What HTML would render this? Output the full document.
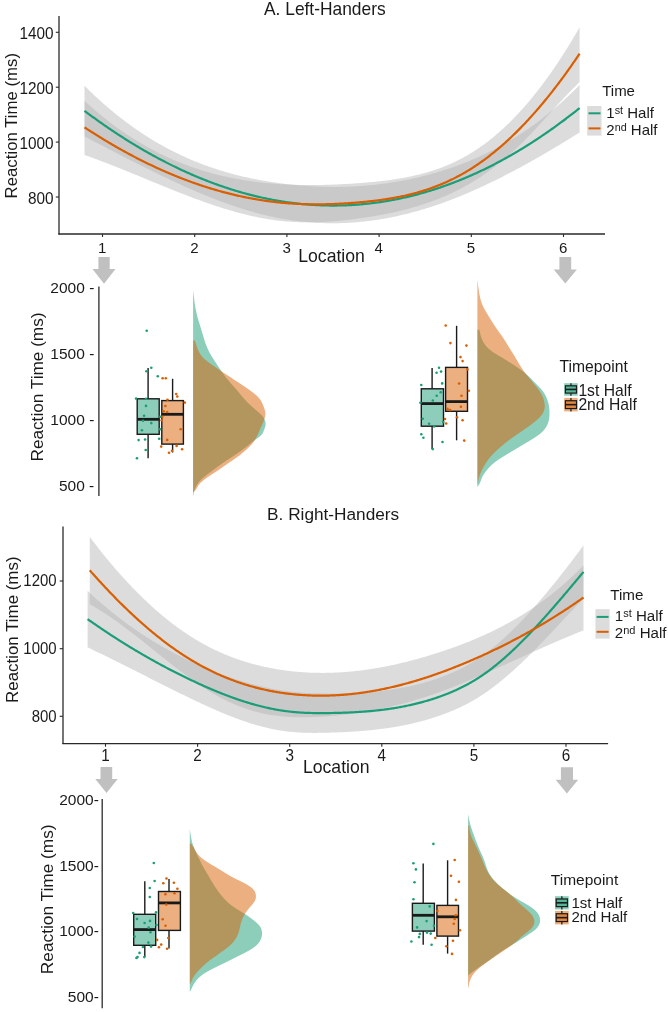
<!DOCTYPE html>
<html><head><meta charset="utf-8"><style>
html,body{margin:0;padding:0;background:#fff;}
body{width:668px;height:1012px;overflow:hidden;}
svg{display:block;font-family:"Liberation Sans", sans-serif;will-change:transform;}
</style></head><body>
<svg width="668" height="1012" viewBox="0 0 668 1012">
<text transform="translate(324.8,14.8) scale(0.96,1)" font-size="18.1" text-anchor="middle" fill="#1a1a1a" >A. Left-Handers</text>
<polygon points="84.50,85.74 85.50,86.74 86.50,87.73 87.50,88.72 88.50,89.70 89.50,90.68 90.50,91.65 91.50,92.61 92.50,93.57 93.50,94.52 94.50,95.46 95.50,96.39 96.50,97.33 97.50,98.25 98.50,99.17 99.50,100.08 100.50,100.98 101.50,101.88 102.50,102.77 103.50,103.66 104.50,104.54 105.50,105.41 106.50,106.28 107.50,107.14 108.50,108.00 109.51,108.85 110.51,109.69 111.51,110.53 112.51,111.36 113.51,112.19 114.51,113.01 115.51,113.82 116.51,114.63 117.51,115.43 118.51,116.22 119.51,117.01 120.51,117.80 121.51,118.58 122.51,119.35 123.51,120.11 124.51,120.87 125.51,121.63 126.51,122.38 127.51,123.12 128.51,123.86 129.51,124.59 130.51,125.32 131.51,126.04 132.51,126.76 133.51,127.47 134.51,128.17 135.51,128.87 136.51,129.56 137.51,130.25 138.51,130.93 139.51,131.61 140.51,132.28 141.51,132.95 142.51,133.61 143.51,134.26 144.51,134.91 145.51,135.56 146.51,136.20 147.51,136.83 148.51,137.46 149.51,138.09 150.51,138.70 151.51,139.32 152.51,139.93 153.51,140.53 154.51,141.13 155.51,141.72 156.51,142.31 157.51,142.89 158.51,143.47 159.52,144.04 160.52,144.61 161.52,145.17 162.52,145.73 163.52,146.29 164.52,146.83 165.52,147.38 166.52,147.92 167.52,148.45 168.52,148.98 169.52,149.50 170.52,150.02 171.52,150.54 172.52,151.05 173.52,151.56 174.52,152.06 175.52,152.55 176.52,153.04 177.52,153.53 178.52,154.01 179.52,154.49 180.52,154.97 181.52,155.43 182.52,155.90 183.52,156.36 184.52,156.81 185.52,157.27 186.52,157.71 187.52,158.16 188.52,158.59 189.52,159.03 190.52,159.46 191.52,159.88 192.52,160.30 193.52,160.72 194.52,161.13 195.52,161.54 196.52,161.94 197.52,162.34 198.52,162.74 199.52,163.13 200.52,163.52 201.52,163.90 202.52,164.28 203.52,164.66 204.52,165.03 205.52,165.40 206.52,165.76 207.52,166.12 208.53,166.48 209.53,166.83 210.53,167.18 211.53,167.52 212.53,167.86 213.53,168.20 214.53,168.53 215.53,168.86 216.53,169.19 217.53,169.51 218.53,169.83 219.53,170.14 220.53,170.45 221.53,170.76 222.53,171.06 223.53,171.36 224.53,171.66 225.53,171.95 226.53,172.24 227.53,172.53 228.53,172.81 229.53,173.09 230.53,173.37 231.53,173.64 232.53,173.91 233.53,174.17 234.53,174.43 235.53,174.69 236.53,174.95 237.53,175.20 238.53,175.45 239.53,175.70 240.53,175.94 241.53,176.18 242.53,176.41 243.53,176.65 244.53,176.88 245.53,177.11 246.53,177.33 247.53,177.55 248.53,177.77 249.53,177.98 250.53,178.20 251.53,178.40 252.53,178.61 253.53,178.81 254.53,179.01 255.53,179.21 256.53,179.41 257.53,179.60 258.54,179.79 259.54,179.97 260.54,180.16 261.54,180.34 262.54,180.52 263.54,180.69 264.54,180.86 265.54,181.03 266.54,181.20 267.54,181.37 268.54,181.53 269.54,181.69 270.54,181.85 271.54,182.00 272.54,182.15 273.54,182.30 274.54,182.45 275.54,182.59 276.54,182.74 277.54,182.88 278.54,183.01 279.54,183.15 280.54,183.28 281.54,183.41 282.54,183.54 283.54,183.67 284.54,183.79 285.54,183.91 286.54,184.03 287.54,184.15 288.54,184.27 289.54,184.38 290.54,184.49 291.54,184.59 292.54,184.70 293.54,184.80 294.54,184.90 295.54,185.00 296.54,185.10 297.54,185.19 298.54,185.28 299.54,185.37 300.54,185.46 301.54,185.54 302.54,185.62 303.54,185.70 304.54,185.78 305.54,185.85 306.54,185.92 307.55,185.99 308.55,186.06 309.55,186.12 310.55,186.18 311.55,186.24 312.55,186.30 313.55,186.35 314.55,186.41 315.55,186.45 316.55,186.50 317.55,186.55 318.55,186.59 319.55,186.63 320.55,186.66 321.55,186.70 322.55,186.73 323.55,186.76 324.55,186.79 325.55,186.81 326.55,186.83 327.55,186.85 328.55,186.87 329.55,186.88 330.55,186.89 331.55,186.90 332.55,186.91 333.55,186.91 334.55,186.91 335.55,186.91 336.55,186.91 337.55,186.90 338.55,186.89 339.55,186.88 340.55,186.86 341.55,186.85 342.55,186.83 343.55,186.81 344.55,186.78 345.55,186.75 346.55,186.72 347.55,186.69 348.55,186.65 349.55,186.61 350.55,186.57 351.55,186.53 352.55,186.48 353.55,186.43 354.55,186.38 355.55,186.33 356.55,186.27 357.56,186.21 358.56,186.15 359.56,186.08 360.56,186.02 361.56,185.94 362.56,185.87 363.56,185.79 364.56,185.72 365.56,185.63 366.56,185.55 367.56,185.46 368.56,185.37 369.56,185.28 370.56,185.18 371.56,185.08 372.56,184.98 373.56,184.88 374.56,184.77 375.56,184.66 376.56,184.55 377.56,184.43 378.56,184.32 379.56,184.20 380.56,184.07 381.56,183.95 382.56,183.82 383.56,183.68 384.56,183.55 385.56,183.41 386.56,183.27 387.56,183.13 388.56,182.98 389.56,182.83 390.56,182.68 391.56,182.52 392.56,182.36 393.56,182.20 394.56,182.04 395.56,181.87 396.56,181.70 397.56,181.53 398.56,181.35 399.56,181.17 400.56,180.99 401.56,180.81 402.56,180.62 403.56,180.43 404.56,180.23 405.56,180.04 406.57,179.84 407.57,179.64 408.57,179.43 409.57,179.22 410.57,179.01 411.57,178.80 412.57,178.58 413.57,178.36 414.57,178.14 415.57,177.91 416.57,177.68 417.57,177.45 418.57,177.21 419.57,176.97 420.57,176.73 421.57,176.49 422.57,176.24 423.57,175.99 424.57,175.73 425.57,175.48 426.57,175.22 427.57,174.95 428.57,174.69 429.57,174.42 430.57,174.14 431.57,173.87 432.57,173.59 433.57,173.31 434.57,173.02 435.57,172.73 436.57,172.44 437.57,172.15 438.57,171.85 439.57,171.55 440.57,171.24 441.57,170.93 442.57,170.62 443.57,170.31 444.57,169.99 445.57,169.67 446.57,169.34 447.57,169.01 448.57,168.68 449.57,168.34 450.57,168.00 451.57,167.66 452.57,167.31 453.57,166.96 454.57,166.61 455.57,166.25 456.58,165.89 457.58,165.52 458.58,165.15 459.58,164.78 460.58,164.40 461.58,164.02 462.58,163.64 463.58,163.25 464.58,162.86 465.58,162.46 466.58,162.06 467.58,161.66 468.58,161.25 469.58,160.84 470.58,160.42 471.58,160.00 472.58,159.57 473.58,159.14 474.58,158.71 475.58,158.27 476.58,157.83 477.58,157.39 478.58,156.94 479.58,156.48 480.58,156.02 481.58,155.56 482.58,155.09 483.58,154.62 484.58,154.15 485.58,153.67 486.58,153.18 487.58,152.69 488.58,152.20 489.58,151.70 490.58,151.20 491.58,150.69 492.58,150.18 493.58,149.66 494.58,149.14 495.58,148.61 496.58,148.08 497.58,147.54 498.58,147.00 499.58,146.46 500.58,145.91 501.58,145.35 502.58,144.79 503.58,144.23 504.58,143.66 505.59,143.09 506.59,142.51 507.59,141.92 508.59,141.33 509.59,140.74 510.59,140.14 511.59,139.54 512.59,138.93 513.59,138.31 514.59,137.69 515.59,137.07 516.59,136.44 517.59,135.80 518.59,135.16 519.59,134.51 520.59,133.86 521.59,133.21 522.59,132.54 523.59,131.88 524.59,131.21 525.59,130.53 526.59,129.84 527.59,129.15 528.59,128.46 529.59,127.76 530.59,127.05 531.59,126.34 532.59,125.63 533.59,124.90 534.59,124.17 535.59,123.44 536.59,122.70 537.59,121.95 538.59,121.20 539.59,120.45 540.59,119.68 541.59,118.91 542.59,118.14 543.59,117.36 544.59,116.57 545.59,115.78 546.59,114.98 547.59,114.17 548.59,113.36 549.59,112.54 550.59,111.72 551.59,110.89 552.59,110.05 553.59,109.21 554.59,108.36 555.60,107.50 556.60,106.64 557.60,105.77 558.60,104.89 559.60,104.01 560.60,103.13 561.60,102.23 562.60,101.33 563.60,100.42 564.60,99.51 565.60,98.59 566.60,97.66 567.60,96.72 568.60,95.78 569.60,94.83 570.60,93.88 571.60,92.92 572.60,91.95 573.60,90.97 574.60,89.99 575.60,89.00 576.60,88.00 577.60,87.00 578.60,85.99 579.60,84.97 579.60,132.50 578.60,133.12 577.60,133.74 576.60,134.37 575.60,134.99 574.60,135.61 573.60,136.23 572.60,136.84 571.60,137.46 570.60,138.08 569.60,138.69 568.60,139.30 567.60,139.92 566.60,140.53 565.60,141.14 564.60,141.75 563.60,142.36 562.60,142.96 561.60,143.57 560.60,144.17 559.60,144.77 558.60,145.38 557.60,145.98 556.60,146.58 555.60,147.17 554.59,147.77 553.59,148.37 552.59,148.96 551.59,149.55 550.59,150.14 549.59,150.73 548.59,151.32 547.59,151.91 546.59,152.49 545.59,153.08 544.59,153.66 543.59,154.24 542.59,154.82 541.59,155.40 540.59,155.98 539.59,156.55 538.59,157.13 537.59,157.70 536.59,158.27 535.59,158.84 534.59,159.41 533.59,159.97 532.59,160.54 531.59,161.10 530.59,161.66 529.59,162.22 528.59,162.78 527.59,163.33 526.59,163.89 525.59,164.44 524.59,164.99 523.59,165.54 522.59,166.09 521.59,166.63 520.59,167.18 519.59,167.72 518.59,168.26 517.59,168.80 516.59,169.33 515.59,169.87 514.59,170.40 513.59,170.93 512.59,171.46 511.59,171.99 510.59,172.51 509.59,173.04 508.59,173.56 507.59,174.08 506.59,174.59 505.59,175.11 504.58,175.62 503.58,176.13 502.58,176.64 501.58,177.15 500.58,177.66 499.58,178.16 498.58,178.66 497.58,179.16 496.58,179.65 495.58,180.15 494.58,180.64 493.58,181.13 492.58,181.62 491.58,182.11 490.58,182.59 489.58,183.07 488.58,183.55 487.58,184.03 486.58,184.50 485.58,184.97 484.58,185.44 483.58,185.91 482.58,186.38 481.58,186.84 480.58,187.30 479.58,187.76 478.58,188.22 477.58,188.67 476.58,189.12 475.58,189.57 474.58,190.01 473.58,190.46 472.58,190.90 471.58,191.34 470.58,191.78 469.58,192.21 468.58,192.64 467.58,193.07 466.58,193.50 465.58,193.92 464.58,194.34 463.58,194.76 462.58,195.17 461.58,195.59 460.58,196.00 459.58,196.41 458.58,196.81 457.58,197.21 456.58,197.61 455.57,198.01 454.57,198.41 453.57,198.80 452.57,199.19 451.57,199.57 450.57,199.96 449.57,200.34 448.57,200.72 447.57,201.09 446.57,201.46 445.57,201.83 444.57,202.20 443.57,202.56 442.57,202.92 441.57,203.28 440.57,203.64 439.57,203.99 438.57,204.34 437.57,204.68 436.57,205.03 435.57,205.37 434.57,205.70 433.57,206.04 432.57,206.37 431.57,206.70 430.57,207.02 429.57,207.34 428.57,207.66 427.57,207.98 426.57,208.29 425.57,208.60 424.57,208.91 423.57,209.21 422.57,209.51 421.57,209.81 420.57,210.10 419.57,210.39 418.57,210.68 417.57,210.96 416.57,211.24 415.57,211.52 414.57,211.80 413.57,212.07 412.57,212.34 411.57,212.60 410.57,212.87 409.57,213.13 408.57,213.38 407.57,213.63 406.57,213.88 405.56,214.13 404.56,214.37 403.56,214.61 402.56,214.85 401.56,215.09 400.56,215.32 399.56,215.54 398.56,215.77 397.56,215.99 396.56,216.21 395.56,216.42 394.56,216.63 393.56,216.84 392.56,217.04 391.56,217.25 390.56,217.44 389.56,217.64 388.56,217.83 387.56,218.02 386.56,218.20 385.56,218.39 384.56,218.56 383.56,218.74 382.56,218.91 381.56,219.08 380.56,219.25 379.56,219.41 378.56,219.57 377.56,219.72 376.56,219.88 375.56,220.02 374.56,220.17 373.56,220.31 372.56,220.45 371.56,220.59 370.56,220.72 369.56,220.85 368.56,220.97 367.56,221.10 366.56,221.22 365.56,221.33 364.56,221.44 363.56,221.55 362.56,221.66 361.56,221.76 360.56,221.86 359.56,221.95 358.56,222.05 357.56,222.13 356.55,222.22 355.55,222.30 354.55,222.38 353.55,222.46 352.55,222.53 351.55,222.59 350.55,222.66 349.55,222.72 348.55,222.78 347.55,222.83 346.55,222.88 345.55,222.93 344.55,222.98 343.55,223.02 342.55,223.05 341.55,223.09 340.55,223.12 339.55,223.15 338.55,223.17 337.55,223.19 336.55,223.20 335.55,223.22 334.55,223.23 333.55,223.23 332.55,223.24 331.55,223.23 330.55,223.23 329.55,223.22 328.55,223.21 327.55,223.20 326.55,223.18 325.55,223.15 324.55,223.13 323.55,223.10 322.55,223.07 321.55,223.03 320.55,222.99 319.55,222.95 318.55,222.90 317.55,222.85 316.55,222.80 315.55,222.74 314.55,222.68 313.55,222.61 312.55,222.54 311.55,222.47 310.55,222.40 309.55,222.32 308.55,222.24 307.55,222.15 306.54,222.06 305.54,221.97 304.54,221.87 303.54,221.77 302.54,221.66 301.54,221.56 300.54,221.44 299.54,221.33 298.54,221.21 297.54,221.09 296.54,220.96 295.54,220.83 294.54,220.70 293.54,220.56 292.54,220.42 291.54,220.27 290.54,220.13 289.54,219.97 288.54,219.82 287.54,219.66 286.54,219.50 285.54,219.33 284.54,219.16 283.54,218.99 282.54,218.81 281.54,218.63 280.54,218.44 279.54,218.25 278.54,218.06 277.54,217.86 276.54,217.66 275.54,217.46 274.54,217.25 273.54,217.04 272.54,216.83 271.54,216.61 270.54,216.39 269.54,216.16 268.54,215.93 267.54,215.70 266.54,215.47 265.54,215.23 264.54,214.99 263.54,214.74 262.54,214.49 261.54,214.24 260.54,213.98 259.54,213.72 258.54,213.46 257.53,213.19 256.53,212.93 255.53,212.65 254.53,212.38 253.53,212.10 252.53,211.82 251.53,211.53 250.53,211.24 249.53,210.95 248.53,210.66 247.53,210.36 246.53,210.06 245.53,209.76 244.53,209.45 243.53,209.14 242.53,208.83 241.53,208.52 240.53,208.20 239.53,207.88 238.53,207.55 237.53,207.23 236.53,206.90 235.53,206.56 234.53,206.23 233.53,205.89 232.53,205.55 231.53,205.21 230.53,204.86 229.53,204.51 228.53,204.16 227.53,203.81 226.53,203.45 225.53,203.09 224.53,202.73 223.53,202.36 222.53,202.00 221.53,201.63 220.53,201.26 219.53,200.88 218.53,200.50 217.53,200.13 216.53,199.74 215.53,199.36 214.53,198.97 213.53,198.58 212.53,198.19 211.53,197.80 210.53,197.40 209.53,197.01 208.53,196.61 207.52,196.20 206.52,195.80 205.52,195.39 204.52,194.98 203.52,194.57 202.52,194.16 201.52,193.74 200.52,193.33 199.52,192.91 198.52,192.49 197.52,192.06 196.52,191.64 195.52,191.21 194.52,190.78 193.52,190.35 192.52,189.92 191.52,189.48 190.52,189.05 189.52,188.61 188.52,188.17 187.52,187.72 186.52,187.28 185.52,186.83 184.52,186.39 183.52,185.94 182.52,185.49 181.52,185.03 180.52,184.58 179.52,184.12 178.52,183.67 177.52,183.21 176.52,182.75 175.52,182.29 174.52,181.82 173.52,181.36 172.52,180.89 171.52,180.42 170.52,179.95 169.52,179.48 168.52,179.01 167.52,178.54 166.52,178.06 165.52,177.58 164.52,177.11 163.52,176.63 162.52,176.15 161.52,175.67 160.52,175.18 159.52,174.70 158.51,174.21 157.51,173.73 156.51,173.24 155.51,172.75 154.51,172.26 153.51,171.77 152.51,171.28 151.51,170.79 150.51,170.29 149.51,169.80 148.51,169.30 147.51,168.81 146.51,168.31 145.51,167.81 144.51,167.31 143.51,166.81 142.51,166.31 141.51,165.81 140.51,165.30 139.51,164.80 138.51,164.30 137.51,163.79 136.51,163.29 135.51,162.78 134.51,162.27 133.51,161.76 132.51,161.26 131.51,160.75 130.51,160.24 129.51,159.73 128.51,159.22 127.51,158.71 126.51,158.19 125.51,157.68 124.51,157.17 123.51,156.66 122.51,156.14 121.51,155.63 120.51,155.11 119.51,154.60 118.51,154.08 117.51,153.57 116.51,153.05 115.51,152.54 114.51,152.02 113.51,151.50 112.51,150.99 111.51,150.47 110.51,149.95 109.51,149.44 108.50,148.92 107.50,148.40 106.50,147.88 105.50,147.37 104.50,146.85 103.50,146.33 102.50,145.81 101.50,145.30 100.50,144.78 99.50,144.26 98.50,143.74 97.50,143.23 96.50,142.71 95.50,142.19 94.50,141.68 93.50,141.16 92.50,140.64 91.50,140.13 90.50,139.61 89.50,139.10 88.50,138.58 87.50,138.07 86.50,137.55 85.50,137.04 84.50,136.52" fill="rgba(178,178,178,0.46)"/>
<polygon points="84.50,100.82 85.50,101.74 86.50,102.65 87.50,103.56 88.50,104.46 89.50,105.36 90.50,106.25 91.50,107.13 92.50,108.01 93.50,108.88 94.50,109.74 95.50,110.60 96.50,111.45 97.50,112.30 98.50,113.13 99.50,113.97 100.50,114.79 101.50,115.61 102.50,116.43 103.50,117.24 104.50,118.04 105.50,118.83 106.50,119.62 107.50,120.41 108.50,121.19 109.51,121.96 110.51,122.72 111.51,123.48 112.51,124.24 113.51,124.98 114.51,125.73 115.51,126.46 116.51,127.19 117.51,127.92 118.51,128.64 119.51,129.35 120.51,130.06 121.51,130.76 122.51,131.45 123.51,132.14 124.51,132.83 125.51,133.51 126.51,134.18 127.51,134.85 128.51,135.51 129.51,136.17 130.51,136.82 131.51,137.46 132.51,138.10 133.51,138.74 134.51,139.37 135.51,139.99 136.51,140.61 137.51,141.22 138.51,141.83 139.51,142.43 140.51,143.03 141.51,143.62 142.51,144.21 143.51,144.79 144.51,145.36 145.51,145.93 146.51,146.50 147.51,147.06 148.51,147.61 149.51,148.16 150.51,148.71 151.51,149.25 152.51,149.78 153.51,150.31 154.51,150.84 155.51,151.36 156.51,151.87 157.51,152.38 158.51,152.88 159.52,153.38 160.52,153.88 161.52,154.37 162.52,154.85 163.52,155.33 164.52,155.81 165.52,156.28 166.52,156.75 167.52,157.21 168.52,157.66 169.52,158.12 170.52,158.56 171.52,159.01 172.52,159.44 173.52,159.88 174.52,160.31 175.52,160.73 176.52,161.15 177.52,161.56 178.52,161.97 179.52,162.38 180.52,162.78 181.52,163.18 182.52,163.57 183.52,163.96 184.52,164.34 185.52,164.72 186.52,165.10 187.52,165.47 188.52,165.84 189.52,166.20 190.52,166.56 191.52,166.91 192.52,167.26 193.52,167.61 194.52,167.95 195.52,168.29 196.52,168.62 197.52,168.95 198.52,169.27 199.52,169.60 200.52,169.91 201.52,170.23 202.52,170.53 203.52,170.84 204.52,171.14 205.52,171.44 206.52,171.73 207.52,172.02 208.53,172.31 209.53,172.59 210.53,172.87 211.53,173.14 212.53,173.41 213.53,173.68 214.53,173.94 215.53,174.20 216.53,174.46 217.53,174.71 218.53,174.96 219.53,175.20 220.53,175.44 221.53,175.68 222.53,175.91 223.53,176.14 224.53,176.37 225.53,176.59 226.53,176.81 227.53,177.03 228.53,177.24 229.53,177.45 230.53,177.66 231.53,177.86 232.53,178.06 233.53,178.26 234.53,178.45 235.53,178.64 236.53,178.83 237.53,179.01 238.53,179.19 239.53,179.37 240.53,179.54 241.53,179.71 242.53,179.88 243.53,180.04 244.53,180.20 245.53,180.36 246.53,180.52 247.53,180.67 248.53,180.82 249.53,180.96 250.53,181.11 251.53,181.25 252.53,181.39 253.53,181.52 254.53,181.65 255.53,181.78 256.53,181.91 257.53,182.03 258.54,182.15 259.54,182.27 260.54,182.38 261.54,182.49 262.54,182.60 263.54,182.71 264.54,182.81 265.54,182.91 266.54,183.01 267.54,183.11 268.54,183.20 269.54,183.29 270.54,183.38 271.54,183.47 272.54,183.55 273.54,183.63 274.54,183.71 275.54,183.79 276.54,183.86 277.54,183.93 278.54,184.00 279.54,184.07 280.54,184.13 281.54,184.19 282.54,184.25 283.54,184.31 284.54,184.36 285.54,184.42 286.54,184.47 287.54,184.51 288.54,184.56 289.54,184.60 290.54,184.65 291.54,184.69 292.54,184.72 293.54,184.76 294.54,184.79 295.54,184.82 296.54,184.85 297.54,184.88 298.54,184.90 299.54,184.93 300.54,184.95 301.54,184.96 302.54,184.98 303.54,185.00 304.54,185.01 305.54,185.02 306.54,185.03 307.55,185.03 308.55,185.04 309.55,185.04 310.55,185.04 311.55,185.04 312.55,185.04 313.55,185.04 314.55,185.03 315.55,185.02 316.55,185.01 317.55,185.00 318.55,184.98 319.55,184.97 320.55,184.95 321.55,184.93 322.55,184.91 323.55,184.89 324.55,184.87 325.55,184.84 326.55,184.81 327.55,184.78 328.55,184.75 329.55,184.72 330.55,184.69 331.55,184.65 332.55,184.61 333.55,184.58 334.55,184.54 335.55,184.49 336.55,184.45 337.55,184.41 338.55,184.36 339.55,184.31 340.55,184.26 341.55,184.21 342.55,184.16 343.55,184.11 344.55,184.05 345.55,184.00 346.55,183.94 347.55,183.88 348.55,183.82 349.55,183.76 350.55,183.69 351.55,183.63 352.55,183.56 353.55,183.50 354.55,183.43 355.55,183.36 356.55,183.29 357.56,183.22 358.56,183.14 359.56,183.07 360.56,182.99 361.56,182.92 362.56,182.84 363.56,182.76 364.56,182.68 365.56,182.60 366.56,182.51 367.56,182.43 368.56,182.34 369.56,182.25 370.56,182.16 371.56,182.07 372.56,181.98 373.56,181.88 374.56,181.78 375.56,181.68 376.56,181.58 377.56,181.48 378.56,181.37 379.56,181.26 380.56,181.15 381.56,181.04 382.56,180.92 383.56,180.80 384.56,180.68 385.56,180.56 386.56,180.43 387.56,180.30 388.56,180.17 389.56,180.04 390.56,179.90 391.56,179.76 392.56,179.62 393.56,179.47 394.56,179.32 395.56,179.17 396.56,179.01 397.56,178.85 398.56,178.69 399.56,178.52 400.56,178.35 401.56,178.18 402.56,178.00 403.56,177.82 404.56,177.64 405.56,177.45 406.57,177.26 407.57,177.06 408.57,176.86 409.57,176.66 410.57,176.45 411.57,176.24 412.57,176.02 413.57,175.80 414.57,175.58 415.57,175.35 416.57,175.11 417.57,174.87 418.57,174.63 419.57,174.38 420.57,174.13 421.57,173.87 422.57,173.61 423.57,173.34 424.57,173.06 425.57,172.78 426.57,172.50 427.57,172.21 428.57,171.91 429.57,171.61 430.57,171.31 431.57,170.99 432.57,170.67 433.57,170.35 434.57,170.02 435.57,169.68 436.57,169.34 437.57,168.99 438.57,168.63 439.57,168.27 440.57,167.90 441.57,167.53 442.57,167.14 443.57,166.75 444.57,166.36 445.57,165.95 446.57,165.54 447.57,165.13 448.57,164.70 449.57,164.27 450.57,163.83 451.57,163.38 452.57,162.93 453.57,162.47 454.57,162.00 455.57,161.52 456.58,161.04 457.58,160.54 458.58,160.04 459.58,159.53 460.58,159.01 461.58,158.49 462.58,157.95 463.58,157.41 464.58,156.86 465.58,156.30 466.58,155.73 467.58,155.15 468.58,154.57 469.58,153.97 470.58,153.37 471.58,152.75 472.58,152.13 473.58,151.50 474.58,150.86 475.58,150.20 476.58,149.54 477.58,148.88 478.58,148.20 479.58,147.51 480.58,146.81 481.58,146.11 482.58,145.39 483.58,144.67 484.58,143.93 485.58,143.19 486.58,142.43 487.58,141.67 488.58,140.90 489.58,140.12 490.58,139.32 491.58,138.52 492.58,137.71 493.58,136.89 494.58,136.06 495.58,135.22 496.58,134.37 497.58,133.51 498.58,132.64 499.58,131.76 500.58,130.87 501.58,129.97 502.58,129.06 503.58,128.15 504.58,127.22 505.59,126.28 506.59,125.33 507.59,124.37 508.59,123.40 509.59,122.42 510.59,121.43 511.59,120.43 512.59,119.42 513.59,118.40 514.59,117.37 515.59,116.33 516.59,115.28 517.59,114.22 518.59,113.15 519.59,112.07 520.59,110.98 521.59,109.87 522.59,108.76 523.59,107.64 524.59,106.50 525.59,105.36 526.59,104.20 527.59,103.04 528.59,101.86 529.59,100.68 530.59,99.48 531.59,98.27 532.59,97.05 533.59,95.82 534.59,94.58 535.59,93.33 536.59,92.07 537.59,90.80 538.59,89.51 539.59,88.22 540.59,86.91 541.59,85.60 542.59,84.27 543.59,82.93 544.59,81.58 545.59,80.22 546.59,78.85 547.59,77.47 548.59,76.08 549.59,74.67 550.59,73.26 551.59,71.83 552.59,70.39 553.59,68.94 554.59,67.48 555.60,66.01 556.60,64.53 557.60,63.03 558.60,61.53 559.60,60.01 560.60,58.48 561.60,56.94 562.60,55.39 563.60,53.82 564.60,52.25 565.60,50.66 566.60,49.07 567.60,47.46 568.60,45.83 569.60,44.20 570.60,42.56 571.60,40.90 572.60,39.23 573.60,37.55 574.60,35.86 575.60,34.16 576.60,32.44 577.60,30.72 578.60,28.98 579.60,27.23 579.60,82.02 578.60,82.98 577.60,83.95 576.60,84.94 575.60,85.93 574.60,86.92 573.60,87.93 572.60,88.94 571.60,89.96 570.60,90.99 569.60,92.02 568.60,93.06 567.60,94.11 566.60,95.16 565.60,96.22 564.60,97.28 563.60,98.35 562.60,99.42 561.60,100.49 560.60,101.57 559.60,102.66 558.60,103.74 557.60,104.83 556.60,105.92 555.60,107.01 554.59,108.11 553.59,109.21 552.59,110.31 551.59,111.41 550.59,112.51 549.59,113.61 548.59,114.71 547.59,115.81 546.59,116.91 545.59,118.01 544.59,119.11 543.59,120.20 542.59,121.30 541.59,122.39 540.59,123.48 539.59,124.57 538.59,125.66 537.59,126.74 536.59,127.82 535.59,128.89 534.59,129.96 533.59,131.03 532.59,132.09 531.59,133.15 530.59,134.20 529.59,135.25 528.59,136.29 527.59,137.32 526.59,138.35 525.59,139.37 524.59,140.38 523.59,141.38 522.59,142.38 521.59,143.37 520.59,144.35 519.59,145.32 518.59,146.29 517.59,147.24 516.59,148.19 515.59,149.12 514.59,150.05 513.59,150.97 512.59,151.88 511.59,152.79 510.59,153.68 509.59,154.57 508.59,155.45 507.59,156.31 506.59,157.18 505.59,158.03 504.58,158.87 503.58,159.71 502.58,160.54 501.58,161.36 500.58,162.18 499.58,162.98 498.58,163.78 497.58,164.57 496.58,165.35 495.58,166.13 494.58,166.89 493.58,167.65 492.58,168.41 491.58,169.15 490.58,169.89 489.58,170.62 488.58,171.34 487.58,172.06 486.58,172.77 485.58,173.47 484.58,174.17 483.58,174.86 482.58,175.54 481.58,176.21 480.58,176.88 479.58,177.53 478.58,178.19 477.58,178.83 476.58,179.47 475.58,180.10 474.58,180.72 473.58,181.34 472.58,181.95 471.58,182.55 470.58,183.15 469.58,183.74 468.58,184.32 467.58,184.89 466.58,185.46 465.58,186.02 464.58,186.57 463.58,187.12 462.58,187.66 461.58,188.20 460.58,188.72 459.58,189.24 458.58,189.76 457.58,190.27 456.58,190.77 455.57,191.27 454.57,191.76 453.57,192.24 452.57,192.72 451.57,193.19 450.57,193.65 449.57,194.11 448.57,194.57 447.57,195.02 446.57,195.46 445.57,195.90 444.57,196.33 443.57,196.76 442.57,197.18 441.57,197.59 440.57,198.00 439.57,198.41 438.57,198.81 437.57,199.21 436.57,199.60 435.57,199.98 434.57,200.36 433.57,200.74 432.57,201.11 431.57,201.48 430.57,201.84 429.57,202.20 428.57,202.55 427.57,202.90 426.57,203.24 425.57,203.58 424.57,203.92 423.57,204.25 422.57,204.58 421.57,204.90 420.57,205.22 419.57,205.53 418.57,205.84 417.57,206.15 416.57,206.45 415.57,206.75 414.57,207.04 413.57,207.33 412.57,207.62 411.57,207.90 410.57,208.18 409.57,208.46 408.57,208.73 407.57,209.00 406.57,209.26 405.56,209.52 404.56,209.78 403.56,210.04 402.56,210.29 401.56,210.53 400.56,210.78 399.56,211.02 398.56,211.25 397.56,211.49 396.56,211.72 395.56,211.95 394.56,212.17 393.56,212.39 392.56,212.61 391.56,212.83 390.56,213.04 389.56,213.25 388.56,213.45 387.56,213.66 386.56,213.86 385.56,214.05 384.56,214.25 383.56,214.44 382.56,214.63 381.56,214.82 380.56,215.00 379.56,215.18 378.56,215.36 377.56,215.54 376.56,215.71 375.56,215.89 374.56,216.06 373.56,216.22 372.56,216.39 371.56,216.55 370.56,216.71 369.56,216.87 368.56,217.03 367.56,217.18 366.56,217.33 365.56,217.48 364.56,217.63 363.56,217.78 362.56,217.92 361.56,218.06 360.56,218.20 359.56,218.34 358.56,218.48 357.56,218.61 356.55,218.75 355.55,218.88 354.55,219.01 353.55,219.14 352.55,219.26 351.55,219.39 350.55,219.51 349.55,219.63 348.55,219.74 347.55,219.86 346.55,219.97 345.55,220.08 344.55,220.19 343.55,220.30 342.55,220.40 341.55,220.50 340.55,220.60 339.55,220.70 338.55,220.79 337.55,220.89 336.55,220.98 335.55,221.06 334.55,221.15 333.55,221.23 332.55,221.31 331.55,221.38 330.55,221.46 329.55,221.53 328.55,221.59 327.55,221.66 326.55,221.72 325.55,221.78 324.55,221.84 323.55,221.89 322.55,221.94 321.55,221.99 320.55,222.03 319.55,222.07 318.55,222.11 317.55,222.15 316.55,222.18 315.55,222.21 314.55,222.23 313.55,222.25 312.55,222.27 311.55,222.29 310.55,222.30 309.55,222.31 308.55,222.31 307.55,222.31 306.54,222.31 305.54,222.30 304.54,222.29 303.54,222.28 302.54,222.26 301.54,222.24 300.54,222.22 299.54,222.19 298.54,222.16 297.54,222.12 296.54,222.08 295.54,222.04 294.54,221.99 293.54,221.94 292.54,221.88 291.54,221.82 290.54,221.76 289.54,221.69 288.54,221.62 287.54,221.54 286.54,221.46 285.54,221.38 284.54,221.29 283.54,221.19 282.54,221.10 281.54,220.99 280.54,220.89 279.54,220.78 278.54,220.66 277.54,220.54 276.54,220.41 275.54,220.29 274.54,220.15 273.54,220.01 272.54,219.87 271.54,219.73 270.54,219.58 269.54,219.42 268.54,219.26 267.54,219.10 266.54,218.93 265.54,218.76 264.54,218.59 263.54,218.41 262.54,218.23 261.54,218.04 260.54,217.85 259.54,217.65 258.54,217.45 257.53,217.25 256.53,217.05 255.53,216.84 254.53,216.62 253.53,216.41 252.53,216.19 251.53,215.96 250.53,215.74 249.53,215.50 248.53,215.27 247.53,215.03 246.53,214.79 245.53,214.55 244.53,214.30 243.53,214.05 242.53,213.79 241.53,213.53 240.53,213.27 239.53,213.01 238.53,212.74 237.53,212.47 236.53,212.20 235.53,211.92 234.53,211.64 233.53,211.36 232.53,211.07 231.53,210.79 230.53,210.49 229.53,210.20 228.53,209.90 227.53,209.60 226.53,209.30 225.53,209.00 224.53,208.69 223.53,208.38 222.53,208.07 221.53,207.75 220.53,207.43 219.53,207.11 218.53,206.79 217.53,206.46 216.53,206.14 215.53,205.81 214.53,205.47 213.53,205.14 212.53,204.80 211.53,204.46 210.53,204.12 209.53,203.78 208.53,203.43 207.52,203.09 206.52,202.74 205.52,202.38 204.52,202.03 203.52,201.68 202.52,201.32 201.52,200.96 200.52,200.60 199.52,200.23 198.52,199.87 197.52,199.50 196.52,199.13 195.52,198.76 194.52,198.39 193.52,198.02 192.52,197.64 191.52,197.27 190.52,196.89 189.52,196.51 188.52,196.13 187.52,195.74 186.52,195.36 185.52,194.98 184.52,194.59 183.52,194.20 182.52,193.81 181.52,193.42 180.52,193.03 179.52,192.64 178.52,192.24 177.52,191.85 176.52,191.45 175.52,191.06 174.52,190.66 173.52,190.26 172.52,189.86 171.52,189.46 170.52,189.06 169.52,188.65 168.52,188.25 167.52,187.85 166.52,187.44 165.52,187.04 164.52,186.63 163.52,186.22 162.52,185.82 161.52,185.41 160.52,185.00 159.52,184.59 158.51,184.18 157.51,183.77 156.51,183.36 155.51,182.95 154.51,182.54 153.51,182.13 152.51,181.72 151.51,181.30 150.51,180.89 149.51,180.48 148.51,180.07 147.51,179.66 146.51,179.24 145.51,178.83 144.51,178.42 143.51,178.01 142.51,177.59 141.51,177.18 140.51,176.77 139.51,176.36 138.51,175.95 137.51,175.53 136.51,175.12 135.51,174.71 134.51,174.30 133.51,173.89 132.51,173.48 131.51,173.07 130.51,172.66 129.51,172.25 128.51,171.85 127.51,171.44 126.51,171.03 125.51,170.63 124.51,170.22 123.51,169.82 122.51,169.41 121.51,169.01 120.51,168.61 119.51,168.21 118.51,167.80 117.51,167.40 116.51,167.01 115.51,166.61 114.51,166.21 113.51,165.81 112.51,165.42 111.51,165.03 110.51,164.63 109.51,164.24 108.50,163.85 107.50,163.46 106.50,163.07 105.50,162.69 104.50,162.30 103.50,161.92 102.50,161.54 101.50,161.16 100.50,160.78 99.50,160.40 98.50,160.02 97.50,159.65 96.50,159.27 95.50,158.90 94.50,158.53 93.50,158.16 92.50,157.80 91.50,157.43 90.50,157.07 89.50,156.71 88.50,156.35 87.50,155.99 86.50,155.63 85.50,155.28 84.50,154.93" fill="rgba(178,178,178,0.46)"/>
<polyline points="84.50,110.86 85.50,111.61 86.50,112.35 87.50,113.10 88.50,113.84 89.50,114.58 90.50,115.31 91.50,116.04 92.50,116.77 93.50,117.50 94.50,118.22 95.50,118.94 96.50,119.66 97.50,120.38 98.50,121.09 99.50,121.80 100.50,122.50 101.50,123.21 102.50,123.91 103.50,124.60 104.50,125.30 105.50,125.99 106.50,126.68 107.50,127.36 108.50,128.05 109.51,128.73 110.51,129.40 111.51,130.08 112.51,130.75 113.51,131.42 114.51,132.08 115.51,132.75 116.51,133.40 117.51,134.06 118.51,134.71 119.51,135.37 120.51,136.01 121.51,136.66 122.51,137.30 123.51,137.94 124.51,138.57 125.51,139.21 126.51,139.84 127.51,140.46 128.51,141.09 129.51,141.71 130.51,142.33 131.51,142.94 132.51,143.56 133.51,144.16 134.51,144.77 135.51,145.37 136.51,145.98 137.51,146.57 138.51,147.17 139.51,147.76 140.51,148.35 141.51,148.93 142.51,149.52 143.51,150.10 144.51,150.67 145.51,151.25 146.51,151.82 147.51,152.39 148.51,152.95 149.51,153.51 150.51,154.07 151.51,154.63 152.51,155.18 153.51,155.73 154.51,156.28 155.51,156.82 156.51,157.37 157.51,157.90 158.51,158.44 159.52,158.97 160.52,159.50 161.52,160.03 162.52,160.55 163.52,161.07 164.52,161.59 165.52,162.11 166.52,162.62 167.52,163.13 168.52,163.63 169.52,164.13 170.52,164.63 171.52,165.13 172.52,165.62 173.52,166.12 174.52,166.60 175.52,167.09 176.52,167.57 177.52,168.05 178.52,168.52 179.52,169.00 180.52,169.47 181.52,169.93 182.52,170.40 183.52,170.86 184.52,171.32 185.52,171.77 186.52,172.22 187.52,172.67 188.52,173.12 189.52,173.56 190.52,174.00 191.52,174.44 192.52,174.87 193.52,175.30 194.52,175.73 195.52,176.16 196.52,176.58 197.52,177.00 198.52,177.41 199.52,177.83 200.52,178.24 201.52,178.64 202.52,179.05 203.52,179.45 204.52,179.85 205.52,180.24 206.52,180.63 207.52,181.02 208.53,181.41 209.53,181.79 210.53,182.17 211.53,182.55 212.53,182.92 213.53,183.29 214.53,183.66 215.53,184.02 216.53,184.38 217.53,184.74 218.53,185.10 219.53,185.45 220.53,185.80 221.53,186.15 222.53,186.49 223.53,186.83 224.53,187.17 225.53,187.50 226.53,187.83 227.53,188.16 228.53,188.49 229.53,188.81 230.53,189.13 231.53,189.45 232.53,189.76 233.53,190.07 234.53,190.38 235.53,190.68 236.53,190.98 237.53,191.28 238.53,191.57 239.53,191.86 240.53,192.15 241.53,192.44 242.53,192.72 243.53,193.00 244.53,193.28 245.53,193.55 246.53,193.82 247.53,194.09 248.53,194.35 249.53,194.61 250.53,194.87 251.53,195.13 252.53,195.38 253.53,195.63 254.53,195.88 255.53,196.12 256.53,196.36 257.53,196.59 258.54,196.83 259.54,197.06 260.54,197.29 261.54,197.51 262.54,197.73 263.54,197.95 264.54,198.17 265.54,198.38 266.54,198.59 267.54,198.79 268.54,199.00 269.54,199.20 270.54,199.39 271.54,199.59 272.54,199.78 273.54,199.97 274.54,200.15 275.54,200.33 276.54,200.51 277.54,200.69 278.54,200.86 279.54,201.03 280.54,201.19 281.54,201.36 282.54,201.52 283.54,201.67 284.54,201.83 285.54,201.98 286.54,202.12 287.54,202.27 288.54,202.41 289.54,202.55 290.54,202.68 291.54,202.82 292.54,202.94 293.54,203.07 294.54,203.19 295.54,203.31 296.54,203.43 297.54,203.54 298.54,203.65 299.54,203.76 300.54,203.86 301.54,203.97 302.54,204.06 303.54,204.16 304.54,204.25 305.54,204.34 306.54,204.42 307.55,204.51 308.55,204.59 309.55,204.66 310.55,204.73 311.55,204.80 312.55,204.87 313.55,204.93 314.55,205.00 315.55,205.05 316.55,205.11 317.55,205.16 318.55,205.21 319.55,205.25 320.55,205.29 321.55,205.33 322.55,205.37 323.55,205.40 324.55,205.43 325.55,205.45 326.55,205.48 327.55,205.50 328.55,205.51 329.55,205.53 330.55,205.54 331.55,205.55 332.55,205.55 333.55,205.55 334.55,205.55 335.55,205.54 336.55,205.54 337.55,205.52 338.55,205.51 339.55,205.49 340.55,205.47 341.55,205.45 342.55,205.42 343.55,205.39 344.55,205.36 345.55,205.32 346.55,205.28 347.55,205.24 348.55,205.19 349.55,205.14 350.55,205.09 351.55,205.03 352.55,204.97 353.55,204.91 354.55,204.85 355.55,204.78 356.55,204.71 357.56,204.63 358.56,204.56 359.56,204.48 360.56,204.39 361.56,204.30 362.56,204.21 363.56,204.12 364.56,204.02 365.56,203.92 366.56,203.82 367.56,203.72 368.56,203.61 369.56,203.49 370.56,203.38 371.56,203.26 372.56,203.14 373.56,203.01 374.56,202.88 375.56,202.75 376.56,202.62 377.56,202.48 378.56,202.34 379.56,202.19 380.56,202.05 381.56,201.90 382.56,201.74 383.56,201.59 384.56,201.43 385.56,201.26 386.56,201.10 387.56,200.93 388.56,200.75 389.56,200.58 390.56,200.40 391.56,200.21 392.56,200.03 393.56,199.84 394.56,199.65 395.56,199.45 396.56,199.25 397.56,199.05 398.56,198.85 399.56,198.64 400.56,198.43 401.56,198.21 402.56,198.00 403.56,197.78 404.56,197.55 405.56,197.32 406.57,197.09 407.57,196.86 408.57,196.62 409.57,196.38 410.57,196.14 411.57,195.89 412.57,195.64 413.57,195.39 414.57,195.13 415.57,194.87 416.57,194.61 417.57,194.35 418.57,194.08 419.57,193.81 420.57,193.53 421.57,193.25 422.57,192.97 423.57,192.68 424.57,192.40 425.57,192.10 426.57,191.81 427.57,191.51 428.57,191.21 429.57,190.91 430.57,190.60 431.57,190.29 432.57,189.97 433.57,189.65 434.57,189.33 435.57,189.01 436.57,188.68 437.57,188.35 438.57,188.02 439.57,187.68 440.57,187.34 441.57,187.00 442.57,186.65 443.57,186.30 444.57,185.95 445.57,185.59 446.57,185.23 447.57,184.87 448.57,184.50 449.57,184.14 450.57,183.76 451.57,183.39 452.57,183.01 453.57,182.63 454.57,182.24 455.57,181.85 456.58,181.46 457.58,181.06 458.58,180.67 459.58,180.26 460.58,179.86 461.58,179.45 462.58,179.04 463.58,178.62 464.58,178.21 465.58,177.78 466.58,177.36 467.58,176.93 468.58,176.50 469.58,176.07 470.58,175.63 471.58,175.19 472.58,174.74 473.58,174.30 474.58,173.84 475.58,173.39 476.58,172.93 477.58,172.47 478.58,172.01 479.58,171.54 480.58,171.07 481.58,170.60 482.58,170.12 483.58,169.64 484.58,169.16 485.58,168.67 486.58,168.18 487.58,167.69 488.58,167.19 489.58,166.69 490.58,166.19 491.58,165.68 492.58,165.17 493.58,164.66 494.58,164.14 495.58,163.62 496.58,163.10 497.58,162.57 498.58,162.04 499.58,161.51 500.58,160.97 501.58,160.43 502.58,159.89 503.58,159.34 504.58,158.79 505.59,158.24 506.59,157.68 507.59,157.13 508.59,156.56 509.59,156.00 510.59,155.43 511.59,154.86 512.59,154.28 513.59,153.70 514.59,153.12 515.59,152.53 516.59,151.94 517.59,151.35 518.59,150.75 519.59,150.16 520.59,149.55 521.59,148.95 522.59,148.34 523.59,147.73 524.59,147.11 525.59,146.49 526.59,145.87 527.59,145.24 528.59,144.61 529.59,143.98 530.59,143.35 531.59,142.71 532.59,142.07 533.59,141.42 534.59,140.77 535.59,140.12 536.59,139.46 537.59,138.80 538.59,138.14 539.59,137.48 540.59,136.81 541.59,136.14 542.59,135.46 543.59,134.78 544.59,134.10 545.59,133.41 546.59,132.72 547.59,132.03 548.59,131.34 549.59,130.64 550.59,129.93 551.59,129.23 552.59,128.52 553.59,127.81 554.59,127.09 555.60,126.37 556.60,125.65 557.60,124.93 558.60,124.20 559.60,123.46 560.60,122.73 561.60,121.99 562.60,121.25 563.60,120.50 564.60,119.75 565.60,119.00 566.60,118.24 567.60,117.48 568.60,116.72 569.60,115.95 570.60,115.18 571.60,114.41 572.60,113.64 573.60,112.86 574.60,112.07 575.60,111.29 576.60,110.50 577.60,109.70 578.60,108.91 579.60,108.11" fill="none" stroke="#1b9e77" stroke-width="2.2" stroke-linejoin="round" stroke-linecap="butt"/>
<polyline points="84.50,127.34 85.50,127.99 86.50,128.65 87.50,129.30 88.50,129.95 89.50,130.60 90.50,131.24 91.50,131.88 92.50,132.52 93.50,133.16 94.50,133.79 95.50,134.42 96.50,135.05 97.50,135.67 98.50,136.30 99.50,136.92 100.50,137.53 101.50,138.15 102.50,138.76 103.50,139.37 104.50,139.97 105.50,140.58 106.50,141.18 107.50,141.77 108.50,142.37 109.51,142.96 110.51,143.55 111.51,144.14 112.51,144.72 113.51,145.30 114.51,145.88 115.51,146.46 116.51,147.03 117.51,147.60 118.51,148.17 119.51,148.73 120.51,149.29 121.51,149.85 122.51,150.41 123.51,150.96 124.51,151.52 125.51,152.06 126.51,152.61 127.51,153.15 128.51,153.69 129.51,154.23 130.51,154.76 131.51,155.29 132.51,155.82 133.51,156.35 134.51,156.87 135.51,157.39 136.51,157.91 137.51,158.42 138.51,158.94 139.51,159.45 140.51,159.95 141.51,160.46 142.51,160.96 143.51,161.46 144.51,161.95 145.51,162.44 146.51,162.93 147.51,163.42 148.51,163.90 149.51,164.39 150.51,164.86 151.51,165.34 152.51,165.81 153.51,166.28 154.51,166.75 155.51,167.21 156.51,167.68 157.51,168.13 158.51,168.59 159.52,169.04 160.52,169.49 161.52,169.94 162.52,170.39 163.52,170.83 164.52,171.27 165.52,171.70 166.52,172.14 167.52,172.57 168.52,173.00 169.52,173.42 170.52,173.84 171.52,174.26 172.52,174.68 173.52,175.09 174.52,175.50 175.52,175.91 176.52,176.32 177.52,176.72 178.52,177.12 179.52,177.51 180.52,177.91 181.52,178.30 182.52,178.69 183.52,179.07 184.52,179.45 185.52,179.83 186.52,180.21 187.52,180.58 188.52,180.95 189.52,181.32 190.52,181.69 191.52,182.05 192.52,182.41 193.52,182.77 194.52,183.12 195.52,183.47 196.52,183.82 197.52,184.16 198.52,184.50 199.52,184.84 200.52,185.18 201.52,185.51 202.52,185.84 203.52,186.17 204.52,186.50 205.52,186.82 206.52,187.14 207.52,187.45 208.53,187.77 209.53,188.08 210.53,188.39 211.53,188.69 212.53,188.99 213.53,189.29 214.53,189.59 215.53,189.88 216.53,190.17 217.53,190.46 218.53,190.74 219.53,191.02 220.53,191.30 221.53,191.58 222.53,191.85 223.53,192.12 224.53,192.39 225.53,192.65 226.53,192.91 227.53,193.17 228.53,193.42 229.53,193.68 230.53,193.92 231.53,194.17 232.53,194.41 233.53,194.65 234.53,194.89 235.53,195.13 236.53,195.36 237.53,195.59 238.53,195.81 239.53,196.04 240.53,196.26 241.53,196.47 242.53,196.69 243.53,196.90 244.53,197.11 245.53,197.31 246.53,197.51 247.53,197.71 248.53,197.91 249.53,198.10 250.53,198.29 251.53,198.48 252.53,198.66 253.53,198.84 254.53,199.02 255.53,199.20 256.53,199.37 257.53,199.54 258.54,199.71 259.54,199.87 260.54,200.03 261.54,200.19 262.54,200.34 263.54,200.49 264.54,200.64 265.54,200.79 266.54,200.93 267.54,201.07 268.54,201.20 269.54,201.34 270.54,201.47 271.54,201.60 272.54,201.72 273.54,201.84 274.54,201.96 275.54,202.07 276.54,202.19 277.54,202.30 278.54,202.40 279.54,202.51 280.54,202.61 281.54,202.70 282.54,202.80 283.54,202.89 284.54,202.98 285.54,203.06 286.54,203.14 287.54,203.22 288.54,203.30 289.54,203.37 290.54,203.44 291.54,203.51 292.54,203.58 293.54,203.64 294.54,203.70 295.54,203.75 296.54,203.81 297.54,203.86 298.54,203.91 299.54,203.95 300.54,203.99 301.54,204.03 302.54,204.07 303.54,204.11 304.54,204.14 305.54,204.17 306.54,204.19 307.55,204.22 308.55,204.24 309.55,204.26 310.55,204.28 311.55,204.29 312.55,204.30 313.55,204.31 314.55,204.32 315.55,204.32 316.55,204.32 317.55,204.32 318.55,204.32 319.55,204.31 320.55,204.31 321.55,204.29 322.55,204.28 323.55,204.27 324.55,204.25 325.55,204.23 326.55,204.21 327.55,204.18 328.55,204.16 329.55,204.13 330.55,204.10 331.55,204.06 332.55,204.03 333.55,203.99 334.55,203.95 335.55,203.91 336.55,203.87 337.55,203.82 338.55,203.77 339.55,203.72 340.55,203.67 341.55,203.62 342.55,203.56 343.55,203.50 344.55,203.44 345.55,203.38 346.55,203.31 347.55,203.25 348.55,203.18 349.55,203.11 350.55,203.04 351.55,202.96 352.55,202.89 353.55,202.81 354.55,202.73 355.55,202.65 356.55,202.57 357.56,202.48 358.56,202.40 359.56,202.31 360.56,202.22 361.56,202.13 362.56,202.03 363.56,201.94 364.56,201.84 365.56,201.74 366.56,201.64 367.56,201.54 368.56,201.43 369.56,201.32 370.56,201.21 371.56,201.10 372.56,200.99 373.56,200.87 374.56,200.75 375.56,200.63 376.56,200.51 377.56,200.38 378.56,200.25 379.56,200.12 380.56,199.98 381.56,199.84 382.56,199.70 383.56,199.56 384.56,199.41 385.56,199.26 386.56,199.10 387.56,198.95 388.56,198.79 389.56,198.62 390.56,198.46 391.56,198.29 392.56,198.11 393.56,197.93 394.56,197.75 395.56,197.57 396.56,197.38 397.56,197.19 398.56,196.99 399.56,196.79 400.56,196.59 401.56,196.38 402.56,196.17 403.56,195.95 404.56,195.73 405.56,195.51 406.57,195.28 407.57,195.04 408.57,194.81 409.57,194.56 410.57,194.32 411.57,194.07 412.57,193.81 413.57,193.55 414.57,193.28 415.57,193.01 416.57,192.74 417.57,192.46 418.57,192.17 419.57,191.88 420.57,191.59 421.57,191.29 422.57,190.98 423.57,190.67 424.57,190.36 425.57,190.04 426.57,189.71 427.57,189.38 428.57,189.04 429.57,188.70 430.57,188.35 431.57,187.99 432.57,187.63 433.57,187.26 434.57,186.89 435.57,186.51 436.57,186.13 437.57,185.74 438.57,185.34 439.57,184.94 440.57,184.53 441.57,184.12 442.57,183.70 443.57,183.27 444.57,182.83 445.57,182.39 446.57,181.94 447.57,181.49 448.57,181.03 449.57,180.56 450.57,180.09 451.57,179.61 452.57,179.12 453.57,178.62 454.57,178.12 455.57,177.61 456.58,177.10 457.58,176.57 458.58,176.04 459.58,175.51 460.58,174.96 461.58,174.41 462.58,173.85 463.58,173.28 464.58,172.71 465.58,172.12 466.58,171.53 467.58,170.93 468.58,170.33 469.58,169.71 470.58,169.09 471.58,168.46 472.58,167.82 473.58,167.18 474.58,166.52 475.58,165.86 476.58,165.19 477.58,164.52 478.58,163.83 479.58,163.14 480.58,162.44 481.58,161.73 482.58,161.01 483.58,160.28 484.58,159.55 485.58,158.81 486.58,158.06 487.58,157.30 488.58,156.54 489.58,155.77 490.58,154.98 491.58,154.20 492.58,153.40 493.58,152.59 494.58,151.78 495.58,150.96 496.58,150.13 497.58,149.30 498.58,148.45 499.58,147.60 500.58,146.74 501.58,145.87 502.58,144.99 503.58,144.11 504.58,143.22 505.59,142.32 506.59,141.41 507.59,140.49 508.59,139.57 509.59,138.64 510.59,137.70 511.59,136.75 512.59,135.80 513.59,134.83 514.59,133.86 515.59,132.88 516.59,131.89 517.59,130.90 518.59,129.89 519.59,128.88 520.59,127.86 521.59,126.84 522.59,125.80 523.59,124.76 524.59,123.71 525.59,122.65 526.59,121.58 527.59,120.51 528.59,119.43 529.59,118.34 530.59,117.24 531.59,116.13 532.59,115.02 533.59,113.89 534.59,112.76 535.59,111.63 536.59,110.48 537.59,109.32 538.59,108.16 539.59,106.99 540.59,105.81 541.59,104.63 542.59,103.44 543.59,102.23 544.59,101.02 545.59,99.81 546.59,98.58 547.59,97.35 548.59,96.11 549.59,94.86 550.59,93.60 551.59,92.33 552.59,91.06 553.59,89.78 554.59,88.49 555.60,87.19 556.60,85.89 557.60,84.58 558.60,83.26 559.60,81.93 560.60,80.59 561.60,79.25 562.60,77.89 563.60,76.53 564.60,75.17 565.60,73.79 566.60,72.41 567.60,71.01 568.60,69.61 569.60,68.21 570.60,66.79 571.60,65.37 572.60,63.93 573.60,62.49 574.60,61.05 575.60,59.59 576.60,58.13 577.60,56.66 578.60,55.18 579.60,53.69" fill="none" stroke="#d95f02" stroke-width="2.2" stroke-linejoin="round" stroke-linecap="butt"/>
<line x1="59" y1="16" x2="59" y2="234.5" stroke="#2a2a2a" stroke-width="1.3"/>
<line x1="58.35" y1="234" x2="605" y2="234" stroke="#2a2a2a" stroke-width="1.3"/>
<line x1="55.8" y1="32.3" x2="59" y2="32.3" stroke="#2a2a2a" stroke-width="1.1"/>
<text transform="translate(53.6,39.3) scale(0.965,1)" font-size="15.9" text-anchor="end" fill="#1a1a1a" >1400</text>
<line x1="55.8" y1="87.2" x2="59" y2="87.2" stroke="#2a2a2a" stroke-width="1.1"/>
<text transform="translate(53.6,94.2) scale(0.965,1)" font-size="15.9" text-anchor="end" fill="#1a1a1a" >1200</text>
<line x1="55.8" y1="142.1" x2="59" y2="142.1" stroke="#2a2a2a" stroke-width="1.1"/>
<text transform="translate(53.6,149.1) scale(0.965,1)" font-size="15.9" text-anchor="end" fill="#1a1a1a" >1000</text>
<line x1="55.8" y1="197.0" x2="59" y2="197.0" stroke="#2a2a2a" stroke-width="1.1"/>
<text transform="translate(53.6,204.0) scale(0.965,1)" font-size="15.9" text-anchor="end" fill="#1a1a1a" >800</text>
<line x1="102.5" y1="234" x2="102.5" y2="237" stroke="#2a2a2a" stroke-width="1.1"/>
<text transform="translate(102.2,252.9) scale(0.98,1)" font-size="15.4" text-anchor="middle" fill="#1a1a1a" >1</text>
<line x1="194.7" y1="234" x2="194.7" y2="237" stroke="#2a2a2a" stroke-width="1.1"/>
<text transform="translate(194.39999999999998,252.9) scale(0.98,1)" font-size="15.4" text-anchor="middle" fill="#1a1a1a" >2</text>
<line x1="286.9" y1="234" x2="286.9" y2="237" stroke="#2a2a2a" stroke-width="1.1"/>
<text transform="translate(286.59999999999997,252.9) scale(0.98,1)" font-size="15.4" text-anchor="middle" fill="#1a1a1a" >3</text>
<line x1="379.1" y1="234" x2="379.1" y2="237" stroke="#2a2a2a" stroke-width="1.1"/>
<text transform="translate(378.8,252.9) scale(0.98,1)" font-size="15.4" text-anchor="middle" fill="#1a1a1a" >4</text>
<line x1="471.3" y1="234" x2="471.3" y2="237" stroke="#2a2a2a" stroke-width="1.1"/>
<text transform="translate(471.0,252.9) scale(0.98,1)" font-size="15.4" text-anchor="middle" fill="#1a1a1a" >5</text>
<line x1="563.5" y1="234" x2="563.5" y2="237" stroke="#2a2a2a" stroke-width="1.1"/>
<text transform="translate(563.2,252.9) scale(0.98,1)" font-size="15.4" text-anchor="middle" fill="#1a1a1a" >6</text>
<text transform="translate(298.2,262) scale(0.975,1)" font-size="18.1" text-anchor="start" fill="#1a1a1a" >Location</text>
<text x="0" y="0" font-size="16.8" text-anchor="middle" fill="#1a1a1a" transform="translate(17.3,125.7) rotate(-90)">Reaction Time (ms)</text>
<text x="602.2" y="96.4" font-size="15" text-anchor="start" fill="#1a1a1a" >Time</text>
<rect x="587.2" y="106" width="14.3" height="29.6" fill="rgba(178,178,178,0.46)"/>
<line x1="588.5" y1="113.3" x2="600.5" y2="113.3" stroke="#1b9e77" stroke-width="2"/>
<line x1="588.5" y1="128.4" x2="600.5" y2="128.4" stroke="#d95f02" stroke-width="2"/>
<text x="606.3" y="117.9" font-size="15" text-anchor="start" fill="#1a1a1a" >1<tspan font-size="10.8" dy="-4">st</tspan><tspan dy="4"> Half</tspan></text>
<text x="606.3" y="134.6" font-size="15" text-anchor="start" fill="#1a1a1a" >2<tspan font-size="10.8" dy="-4">nd</tspan><tspan dy="4"> Half</tspan></text>
<polygon points="98.4,256.9 109.7,256.9 109.7,269 115.5,269 104,283.7 92.5,269 98.4,269" fill="#c0c0c0"/>
<polygon points="559.4,257.1 571.2,257.1 571.2,269.5 576.9,269.5 565.3,283.5 553.7,269.5 559.4,269.5" fill="#c0c0c0"/>
<line x1="98.9" y1="286.5" x2="98.9" y2="496" stroke="#2a2a2a" stroke-width="1.3"/>
<text x="94.3" y="293.29999999999995" font-size="15.5" text-anchor="end" fill="#1a1a1a" >2000 -</text>
<text x="94.3" y="358.79999999999995" font-size="15.5" text-anchor="end" fill="#1a1a1a" >1500 -</text>
<text x="94.3" y="424.79999999999995" font-size="15.5" text-anchor="end" fill="#1a1a1a" >1000 -</text>
<text x="94.3" y="490.9" font-size="15.5" text-anchor="end" fill="#1a1a1a" >500 -</text>
<text x="0" y="0" font-size="17.2" text-anchor="middle" fill="#1a1a1a" transform="translate(43.4,387) rotate(-90)">Reaction Time (ms)</text>
<polygon points="193.10,290.80 193.20,290.80 193.25,291.30 193.31,291.80 193.36,292.30 193.41,292.81 193.47,293.31 193.52,293.81 193.58,294.31 193.63,294.81 193.69,295.31 193.74,295.81 193.80,296.32 193.86,296.82 193.92,297.32 193.98,297.82 194.04,298.32 194.10,298.82 194.16,299.32 194.22,299.83 194.29,300.33 194.35,300.83 194.42,301.33 194.49,301.83 194.56,302.33 194.63,302.84 194.70,303.34 194.78,303.84 194.85,304.34 194.93,304.84 195.01,305.34 195.09,305.84 195.17,306.35 195.26,306.85 195.35,307.35 195.44,307.85 195.53,308.35 195.62,308.85 195.72,309.35 195.82,309.86 195.92,310.36 196.02,310.86 196.13,311.36 196.23,311.86 196.34,312.36 196.46,312.86 196.57,313.37 196.69,313.87 196.81,314.37 196.94,314.87 197.06,315.37 197.19,315.87 197.33,316.38 197.46,316.88 197.60,317.38 197.74,317.88 197.88,318.38 198.03,318.88 198.18,319.38 198.32,319.89 198.47,320.39 198.63,320.89 198.78,321.39 198.93,321.89 199.09,322.39 199.24,322.89 199.40,323.40 199.56,323.90 199.71,324.40 199.87,324.90 200.03,325.40 200.18,325.90 200.34,326.40 200.50,326.91 200.65,327.41 200.80,327.91 200.95,328.41 201.11,328.91 201.26,329.41 201.41,329.91 201.55,330.42 201.70,330.92 201.85,331.42 202.00,331.92 202.14,332.42 202.29,332.92 202.44,333.43 202.59,333.93 202.73,334.43 202.88,334.93 203.03,335.43 203.18,335.93 203.33,336.43 203.48,336.94 203.63,337.44 203.79,337.94 203.94,338.44 204.10,338.94 204.25,339.44 204.41,339.94 204.58,340.45 204.74,340.95 204.90,341.45 205.07,341.95 205.24,342.45 205.42,342.95 205.59,343.45 205.77,343.96 205.96,344.46 206.14,344.96 206.33,345.46 206.53,345.96 206.73,346.46 206.93,346.96 207.14,347.47 207.35,347.97 207.57,348.47 207.79,348.97 208.02,349.47 208.25,349.97 208.49,350.48 208.73,350.98 208.98,351.48 209.24,351.98 209.50,352.48 209.77,352.98 210.05,353.48 210.33,353.99 210.62,354.49 210.91,354.99 211.20,355.49 211.50,355.99 211.80,356.49 212.11,356.99 212.42,357.50 212.74,358.00 213.05,358.50 213.37,359.00 213.69,359.50 214.01,360.00 214.34,360.50 214.66,361.01 214.99,361.51 215.31,362.01 215.64,362.51 215.97,363.01 216.30,363.51 216.62,364.01 216.95,364.52 217.28,365.02 217.61,365.52 217.94,366.02 218.27,366.52 218.60,367.02 218.93,367.52 219.27,368.03 219.60,368.53 219.94,369.03 220.28,369.53 220.62,370.03 220.96,370.53 221.31,371.04 221.66,371.54 222.01,372.04 222.36,372.54 222.72,373.04 223.08,373.54 223.44,374.04 223.80,374.55 224.17,375.05 224.54,375.55 224.92,376.05 225.30,376.55 225.68,377.05 226.07,377.55 226.46,378.06 226.85,378.56 227.25,379.06 227.65,379.56 228.06,380.06 228.47,380.56 228.88,381.06 229.30,381.57 229.73,382.07 230.16,382.57 230.59,383.07 231.03,383.57 231.46,384.07 231.91,384.57 232.35,385.08 232.80,385.58 233.24,386.08 233.69,386.58 234.13,387.08 234.58,387.58 235.02,388.09 235.47,388.59 235.91,389.09 236.35,389.59 236.78,390.09 237.21,390.59 237.64,391.09 238.06,391.60 238.48,392.10 238.90,392.60 239.31,393.10 239.72,393.60 240.13,394.10 240.54,394.60 240.95,395.11 241.36,395.61 241.77,396.11 242.19,396.61 242.62,397.11 243.04,397.61 243.48,398.11 243.92,398.62 244.37,399.12 244.83,399.62 245.30,400.12 245.78,400.62 246.27,401.12 246.77,401.62 247.28,402.13 247.79,402.63 248.32,403.13 248.85,403.63 249.38,404.13 249.93,404.63 250.48,405.14 251.03,405.64 251.59,406.14 252.15,406.64 252.72,407.14 253.29,407.64 253.86,408.14 254.44,408.65 255.02,409.15 255.59,409.65 256.17,410.15 256.75,410.65 257.33,411.15 257.90,411.65 258.47,412.16 259.02,412.66 259.57,413.16 260.10,413.66 260.62,414.16 261.12,414.66 261.59,415.16 262.05,415.67 262.48,416.17 262.89,416.67 263.27,417.17 263.62,417.67 263.93,418.17 264.22,418.67 264.47,419.18 264.70,419.68 264.90,420.18 265.07,420.68 265.22,421.18 265.35,421.68 265.45,422.19 265.53,422.69 265.58,423.19 265.60,423.69 265.60,424.19 265.58,424.69 265.52,425.19 265.44,425.70 265.33,426.20 265.20,426.70 265.04,427.20 264.87,427.70 264.69,428.20 264.49,428.70 264.30,429.21 264.11,429.71 263.92,430.21 263.74,430.71 263.56,431.21 263.37,431.71 263.16,432.21 262.92,432.72 262.65,433.22 262.33,433.72 261.96,434.22 261.54,434.72 261.05,435.22 260.52,435.72 259.95,436.23 259.34,436.73 258.70,437.23 258.03,437.73 257.35,438.23 256.66,438.73 255.96,439.24 255.27,439.74 254.58,440.24 253.91,440.74 253.25,441.24 252.61,441.74 251.97,442.24 251.35,442.75 250.73,443.25 250.12,443.75 249.51,444.25 248.90,444.75 248.29,445.25 247.67,445.75 247.06,446.26 246.44,446.76 245.81,447.26 245.17,447.76 244.52,448.26 243.86,448.76 243.19,449.26 242.51,449.77 241.82,450.27 241.13,450.77 240.43,451.27 239.72,451.77 239.00,452.27 238.28,452.77 237.55,453.28 236.81,453.78 236.07,454.28 235.33,454.78 234.58,455.28 233.82,455.78 233.07,456.29 232.31,456.79 231.55,457.29 230.79,457.79 230.03,458.29 229.26,458.79 228.50,459.29 227.75,459.80 226.99,460.30 226.24,460.80 225.49,461.30 224.75,461.80 224.01,462.30 223.28,462.80 222.56,463.31 221.84,463.81 221.13,464.31 220.43,464.81 219.73,465.31 219.04,465.81 218.35,466.31 217.66,466.82 216.98,467.32 216.30,467.82 215.62,468.32 214.94,468.82 214.26,469.32 213.59,469.82 212.91,470.33 212.23,470.83 211.55,471.33 210.87,471.83 210.20,472.33 209.52,472.83 208.85,473.34 208.18,473.84 207.52,474.34 206.86,474.84 206.22,475.34 205.58,475.84 204.96,476.34 204.35,476.85 203.75,477.35 203.17,477.85 202.61,478.35 202.06,478.85 201.54,479.35 201.03,479.85 200.54,480.36 200.06,480.86 199.61,481.36 199.17,481.86 198.75,482.36 198.35,482.86 197.96,483.36 197.59,483.87 197.25,484.37 196.92,484.87 196.60,485.37 196.31,485.87 196.03,486.37 195.77,486.88 195.52,487.38 195.29,487.88 195.08,488.38 194.88,488.88 194.70,489.38 194.54,489.88 194.38,490.39 194.25,490.89 194.12,491.39 194.01,491.89 193.90,492.39 193.81,492.89 193.72,493.39 193.63,493.90 193.55,494.40 193.48,494.90 193.40,495.40 193.10,495.40" fill="#1b9e77" fill-opacity="0.5"/>
<polygon points="193.10,340.50 194.80,340.50 194.97,341.00 195.14,341.50 195.30,342.00 195.47,342.51 195.63,343.01 195.79,343.51 195.95,344.01 196.11,344.51 196.27,345.01 196.44,345.52 196.60,346.02 196.77,346.52 196.94,347.02 197.12,347.52 197.30,348.02 197.49,348.53 197.69,349.03 197.89,349.53 198.10,350.03 198.32,350.53 198.56,351.03 198.80,351.54 199.05,352.04 199.32,352.54 199.60,353.04 199.90,353.54 200.21,354.04 200.54,354.55 200.89,355.05 201.25,355.55 201.64,356.05 202.05,356.55 202.49,357.05 202.94,357.56 203.42,358.06 203.93,358.56 204.47,359.06 205.03,359.56 205.62,360.06 206.23,360.57 206.86,361.07 207.51,361.57 208.18,362.07 208.86,362.57 209.55,363.07 210.25,363.58 210.96,364.08 211.68,364.58 212.40,365.08 213.12,365.58 213.84,366.08 214.55,366.59 215.26,367.09 215.97,367.59 216.68,368.09 217.38,368.59 218.09,369.09 218.80,369.60 219.52,370.10 220.24,370.60 220.97,371.10 221.70,371.60 222.45,372.10 223.20,372.61 223.96,373.11 224.72,373.61 225.49,374.11 226.27,374.61 227.05,375.11 227.83,375.62 228.62,376.12 229.41,376.62 230.20,377.12 230.99,377.62 231.78,378.12 232.57,378.63 233.36,379.13 234.14,379.63 234.93,380.13 235.71,380.63 236.49,381.13 237.27,381.64 238.04,382.14 238.81,382.64 239.58,383.14 240.35,383.64 241.11,384.14 241.87,384.65 242.62,385.15 243.37,385.65 244.12,386.15 244.86,386.65 245.59,387.15 246.32,387.66 247.04,388.16 247.76,388.66 248.47,389.16 249.17,389.66 249.86,390.16 250.55,390.67 251.22,391.17 251.89,391.67 252.55,392.17 253.20,392.67 253.83,393.17 254.45,393.68 255.05,394.18 255.64,394.68 256.21,395.18 256.76,395.68 257.28,396.18 257.79,396.69 258.27,397.19 258.73,397.69 259.16,398.19 259.57,398.69 259.95,399.19 260.30,399.70 260.64,400.20 260.95,400.70 261.25,401.20 261.53,401.70 261.79,402.20 262.04,402.71 262.27,403.21 262.49,403.71 262.71,404.21 262.91,404.71 263.11,405.21 263.30,405.72 263.49,406.22 263.67,406.72 263.85,407.22 264.03,407.72 264.21,408.22 264.38,408.73 264.54,409.23 264.70,409.73 264.84,410.23 264.97,410.73 265.09,411.23 265.19,411.74 265.27,412.24 265.34,412.74 265.38,413.24 265.40,413.74 265.39,414.24 265.37,414.75 265.32,415.25 265.24,415.75 265.15,416.25 265.05,416.75 264.92,417.25 264.79,417.75 264.64,418.26 264.48,418.76 264.32,419.26 264.14,419.76 263.96,420.26 263.78,420.76 263.58,421.27 263.39,421.77 263.18,422.27 262.98,422.77 262.76,423.27 262.55,423.77 262.33,424.28 262.11,424.78 261.89,425.28 261.66,425.78 261.44,426.28 261.21,426.78 260.99,427.29 260.76,427.79 260.54,428.29 260.31,428.79 260.09,429.29 259.87,429.79 259.65,430.30 259.44,430.80 259.22,431.30 259.01,431.80 258.79,432.30 258.58,432.80 258.36,433.31 258.13,433.81 257.91,434.31 257.68,434.81 257.45,435.31 257.21,435.81 256.96,436.32 256.71,436.82 256.45,437.32 256.18,437.82 255.90,438.32 255.61,438.82 255.31,439.33 255.00,439.83 254.68,440.33 254.35,440.83 254.00,441.33 253.64,441.83 253.27,442.34 252.89,442.84 252.49,443.34 252.08,443.84 251.66,444.34 251.23,444.84 250.78,445.35 250.32,445.85 249.85,446.35 249.37,446.85 248.88,447.35 248.37,447.85 247.85,448.36 247.32,448.86 246.78,449.36 246.22,449.86 245.66,450.36 245.08,450.86 244.49,451.37 243.89,451.87 243.28,452.37 242.66,452.87 242.03,453.37 241.38,453.87 240.73,454.38 240.06,454.88 239.39,455.38 238.70,455.88 238.01,456.38 237.31,456.88 236.60,457.39 235.88,457.89 235.16,458.39 234.44,458.89 233.71,459.39 232.98,459.89 232.25,460.40 231.51,460.90 230.78,461.40 230.05,461.90 229.31,462.40 228.58,462.90 227.86,463.41 227.13,463.91 226.41,464.41 225.69,464.91 224.98,465.41 224.26,465.91 223.54,466.42 222.83,466.92 222.11,467.42 221.39,467.92 220.67,468.42 219.94,468.92 219.21,469.43 218.48,469.93 217.74,470.43 217.00,470.93 216.25,471.43 215.50,471.93 214.74,472.44 213.98,472.94 213.21,473.44 212.45,473.94 211.68,474.44 210.92,474.94 210.16,475.45 209.41,475.95 208.67,476.45 207.94,476.95 207.21,477.45 206.50,477.95 205.80,478.46 205.11,478.96 204.45,479.46 203.80,479.96 203.17,480.46 202.56,480.96 201.98,481.47 201.42,481.97 200.89,482.47 200.39,482.97 199.93,483.47 199.49,483.97 199.09,484.48 198.73,484.98 198.40,485.48 198.09,485.98 197.80,486.48 197.52,486.98 197.24,487.49 196.94,487.99 196.64,488.49 196.31,488.99 195.95,489.49 195.55,489.99 195.10,490.50 194.60,491.00 194.06,491.50 193.50,492.00 193.10,492.00" fill="#d95f02" fill-opacity="0.5"/>
<line x1="148.1" y1="368.1" x2="148.1" y2="398.8" stroke="#1a1a1a" stroke-width="1.4"/>
<line x1="148.1" y1="434.3" x2="148.1" y2="458.3" stroke="#1a1a1a" stroke-width="1.4"/>
<rect x="137.2" y="398.8" width="22.0" height="35.5" fill="#1b9e77" fill-opacity="0.5" stroke="#1a1a1a" stroke-width="1.4"/>
<line x1="137.2" y1="419.3" x2="159.2" y2="419.3" stroke="#1a1a1a" stroke-width="2.8"/>
<line x1="172.6" y1="378.8" x2="172.6" y2="400.6" stroke="#1a1a1a" stroke-width="1.4"/>
<line x1="172.6" y1="444.1" x2="172.6" y2="452.5" stroke="#1a1a1a" stroke-width="1.4"/>
<rect x="161.8" y="400.6" width="21.599999999999994" height="43.5" fill="#d95f02" fill-opacity="0.5" stroke="#1a1a1a" stroke-width="1.4"/>
<line x1="161.8" y1="414.3" x2="183.4" y2="414.3" stroke="#1a1a1a" stroke-width="2.8"/>
<circle cx="146.7" cy="330.8" r="1.3" fill="#1b9e77"/>
<circle cx="151.3" cy="367.7" r="1.3" fill="#1b9e77"/>
<circle cx="146.4" cy="371.2" r="1.3" fill="#1b9e77"/>
<circle cx="157.8" cy="376.2" r="1.3" fill="#1b9e77"/>
<circle cx="136.1" cy="398.6" r="1.3" fill="#1b9e77"/>
<circle cx="146.0" cy="398.8" r="1.3" fill="#1b9e77"/>
<circle cx="146.0" cy="405.9" r="1.3" fill="#1b9e77"/>
<circle cx="144.1" cy="415.7" r="1.3" fill="#1b9e77"/>
<circle cx="143.0" cy="420.7" r="1.3" fill="#1b9e77"/>
<circle cx="151.3" cy="423.1" r="1.3" fill="#1b9e77"/>
<circle cx="141.9" cy="430.3" r="1.3" fill="#1b9e77"/>
<circle cx="160.0" cy="429.3" r="1.3" fill="#1b9e77"/>
<circle cx="160.3" cy="416.8" r="1.3" fill="#1b9e77"/>
<circle cx="138.6" cy="440.1" r="1.3" fill="#1b9e77"/>
<circle cx="145.1" cy="439.5" r="1.3" fill="#1b9e77"/>
<circle cx="159.2" cy="438.7" r="1.3" fill="#1b9e77"/>
<circle cx="145.7" cy="450.0" r="1.3" fill="#1b9e77"/>
<circle cx="137.0" cy="458.3" r="1.3" fill="#1b9e77"/>
<circle cx="162.6" cy="378.2" r="1.3" fill="#d95f02"/>
<circle cx="165.8" cy="378.2" r="1.3" fill="#d95f02"/>
<circle cx="176.2" cy="394.0" r="1.3" fill="#d95f02"/>
<circle cx="177.3" cy="396.5" r="1.3" fill="#d95f02"/>
<circle cx="167.5" cy="399.8" r="1.3" fill="#d95f02"/>
<circle cx="184.8" cy="402.6" r="1.3" fill="#d95f02"/>
<circle cx="165.4" cy="406.0" r="1.3" fill="#d95f02"/>
<circle cx="163.7" cy="411.3" r="1.3" fill="#d95f02"/>
<circle cx="167.2" cy="412.0" r="1.3" fill="#d95f02"/>
<circle cx="162.3" cy="416.8" r="1.3" fill="#d95f02"/>
<circle cx="161.7" cy="420.3" r="1.3" fill="#d95f02"/>
<circle cx="180.7" cy="429.3" r="1.3" fill="#d95f02"/>
<circle cx="167.2" cy="439.9" r="1.3" fill="#d95f02"/>
<circle cx="161.2" cy="446.6" r="1.3" fill="#d95f02"/>
<circle cx="176.6" cy="445.9" r="1.3" fill="#d95f02"/>
<circle cx="182.1" cy="449.3" r="1.3" fill="#d95f02"/>
<circle cx="172.0" cy="450.7" r="1.3" fill="#d95f02"/>
<circle cx="169.0" cy="452.8" r="1.3" fill="#d95f02"/>
<polygon points="477.40,329.70 479.40,329.70 479.50,330.20 479.60,330.70 479.69,331.20 479.80,331.70 479.90,332.20 480.01,332.71 480.12,333.21 480.23,333.71 480.35,334.21 480.48,334.71 480.61,335.21 480.75,335.71 480.89,336.21 481.05,336.71 481.21,337.21 481.38,337.72 481.56,338.22 481.76,338.72 481.96,339.22 482.17,339.72 482.40,340.22 482.64,340.72 482.89,341.22 483.16,341.72 483.44,342.22 483.74,342.72 484.05,343.23 484.38,343.73 484.72,344.23 485.08,344.73 485.46,345.23 485.86,345.73 486.28,346.23 486.72,346.73 487.18,347.23 487.66,347.73 488.17,348.24 488.71,348.74 489.27,349.24 489.86,349.74 490.47,350.24 491.12,350.74 491.79,351.24 492.50,351.74 493.23,352.24 493.99,352.74 494.77,353.24 495.56,353.75 496.38,354.25 497.20,354.75 498.04,355.25 498.89,355.75 499.74,356.25 500.59,356.75 501.44,357.25 502.29,357.75 503.13,358.25 503.96,358.76 504.78,359.26 505.60,359.76 506.41,360.26 507.22,360.76 508.02,361.26 508.81,361.76 509.60,362.26 510.38,362.76 511.15,363.26 511.92,363.76 512.69,364.27 513.45,364.77 514.20,365.27 514.96,365.77 515.70,366.27 516.44,366.77 517.18,367.27 517.90,367.77 518.62,368.27 519.33,368.77 520.04,369.28 520.73,369.78 521.41,370.28 522.08,370.78 522.74,371.28 523.38,371.78 524.02,372.28 524.64,372.78 525.24,373.28 525.83,373.78 526.41,374.29 526.97,374.79 527.52,375.29 528.06,375.79 528.59,376.29 529.11,376.79 529.62,377.29 530.12,377.79 530.62,378.29 531.11,378.79 531.60,379.29 532.08,379.80 532.56,380.30 533.05,380.80 533.53,381.30 534.01,381.80 534.50,382.30 534.99,382.80 535.48,383.30 535.98,383.80 536.47,384.30 536.96,384.81 537.45,385.31 537.94,385.81 538.43,386.31 538.91,386.81 539.38,387.31 539.84,387.81 540.30,388.31 540.75,388.81 541.19,389.31 541.61,389.81 542.03,390.32 542.43,390.82 542.81,391.32 543.18,391.82 543.54,392.32 543.88,392.82 544.20,393.32 544.51,393.82 544.81,394.32 545.10,394.82 545.37,395.33 545.63,395.83 545.88,396.33 546.11,396.83 546.34,397.33 546.55,397.83 546.76,398.33 546.95,398.83 547.14,399.33 547.32,399.83 547.49,400.33 547.65,400.84 547.80,401.34 547.95,401.84 548.09,402.34 548.22,402.84 548.35,403.34 548.47,403.84 548.58,404.34 548.69,404.84 548.78,405.34 548.88,405.85 548.96,406.35 549.04,406.85 549.11,407.35 549.18,407.85 549.24,408.35 549.30,408.85 549.35,409.35 549.39,409.85 549.43,410.35 549.46,410.85 549.48,411.36 549.50,411.86 549.51,412.36 549.52,412.86 549.52,413.36 549.51,413.86 549.50,414.36 549.48,414.86 549.46,415.36 549.42,415.86 549.38,416.37 549.34,416.87 549.28,417.37 549.22,417.87 549.15,418.37 549.07,418.87 548.98,419.37 548.89,419.87 548.78,420.37 548.66,420.87 548.53,421.37 548.39,421.88 548.23,422.38 548.07,422.88 547.89,423.38 547.69,423.88 547.48,424.38 547.25,424.88 547.01,425.38 546.75,425.88 546.48,426.38 546.18,426.89 545.87,427.39 545.54,427.89 545.18,428.39 544.81,428.89 544.42,429.39 544.00,429.89 543.57,430.39 543.11,430.89 542.62,431.39 542.11,431.89 541.58,432.40 541.02,432.90 540.44,433.40 539.83,433.90 539.19,434.40 538.52,434.90 537.84,435.40 537.12,435.90 536.39,436.40 535.64,436.90 534.88,437.41 534.10,437.91 533.30,438.41 532.50,438.91 531.69,439.41 530.87,439.91 530.04,440.41 529.21,440.91 528.38,441.41 527.55,441.91 526.72,442.41 525.89,442.92 525.05,443.42 524.22,443.92 523.39,444.42 522.55,444.92 521.72,445.42 520.88,445.92 520.04,446.42 519.21,446.92 518.37,447.42 517.53,447.93 516.69,448.43 515.85,448.93 515.01,449.43 514.16,449.93 513.32,450.43 512.48,450.93 511.64,451.43 510.80,451.93 509.97,452.43 509.13,452.94 508.30,453.44 507.47,453.94 506.64,454.44 505.82,454.94 505.00,455.44 504.18,455.94 503.37,456.44 502.57,456.94 501.77,457.44 500.98,457.94 500.20,458.45 499.44,458.95 498.69,459.45 497.95,459.95 497.22,460.45 496.52,460.95 495.83,461.45 495.16,461.95 494.51,462.45 493.88,462.95 493.28,463.46 492.70,463.96 492.13,464.46 491.59,464.96 491.06,465.46 490.55,465.96 490.06,466.46 489.58,466.96 489.11,467.46 488.66,467.96 488.21,468.46 487.78,468.97 487.36,469.47 486.94,469.97 486.54,470.47 486.14,470.97 485.75,471.47 485.37,471.97 485.00,472.47 484.64,472.97 484.30,473.47 483.96,473.98 483.64,474.48 483.33,474.98 483.04,475.48 482.76,475.98 482.50,476.48 482.26,476.98 482.03,477.48 481.82,477.98 481.62,478.48 481.42,478.98 481.24,479.49 481.06,479.99 480.88,480.49 480.69,480.99 480.51,481.49 480.31,481.99 480.10,482.49 479.87,482.99 479.63,483.49 479.37,483.99 479.09,484.50 478.78,485.00 478.45,485.50 478.11,486.00 477.76,486.50 477.40,487.00 477.40,487.00" fill="#1b9e77" fill-opacity="0.5"/>
<polygon points="477.40,279.80 477.40,279.80 477.46,280.30 477.52,280.80 477.58,281.30 477.64,281.80 477.70,282.30 477.76,282.80 477.82,283.30 477.88,283.80 477.95,284.30 478.01,284.80 478.07,285.31 478.14,285.81 478.20,286.31 478.27,286.81 478.34,287.31 478.41,287.81 478.48,288.31 478.55,288.81 478.62,289.31 478.69,289.81 478.77,290.31 478.84,290.81 478.92,291.31 479.00,291.81 479.08,292.31 479.17,292.81 479.25,293.31 479.34,293.81 479.43,294.31 479.52,294.81 479.62,295.32 479.72,295.82 479.82,296.32 479.93,296.82 480.04,297.32 480.15,297.82 480.27,298.32 480.39,298.82 480.52,299.32 480.65,299.82 480.79,300.32 480.94,300.82 481.09,301.32 481.25,301.82 481.42,302.32 481.59,302.82 481.77,303.32 481.96,303.82 482.15,304.32 482.36,304.82 482.57,305.32 482.79,305.83 483.02,306.33 483.25,306.83 483.50,307.33 483.75,307.83 484.01,308.33 484.27,308.83 484.54,309.33 484.82,309.83 485.10,310.33 485.39,310.83 485.68,311.33 485.97,311.83 486.26,312.33 486.56,312.83 486.87,313.33 487.17,313.83 487.47,314.33 487.78,314.83 488.09,315.33 488.39,315.83 488.70,316.34 489.01,316.84 489.31,317.34 489.62,317.84 489.92,318.34 490.22,318.84 490.53,319.34 490.83,319.84 491.14,320.34 491.45,320.84 491.76,321.34 492.06,321.84 492.38,322.34 492.69,322.84 493.00,323.34 493.32,323.84 493.64,324.34 493.96,324.84 494.29,325.34 494.62,325.84 494.95,326.35 495.29,326.85 495.63,327.35 495.97,327.85 496.32,328.35 496.67,328.85 497.02,329.35 497.38,329.85 497.74,330.35 498.10,330.85 498.46,331.35 498.83,331.85 499.19,332.35 499.55,332.85 499.92,333.35 500.28,333.85 500.64,334.35 501.00,334.85 501.35,335.35 501.70,335.85 502.05,336.35 502.40,336.86 502.74,337.36 503.07,337.86 503.41,338.36 503.73,338.86 504.06,339.36 504.38,339.86 504.69,340.36 505.01,340.86 505.32,341.36 505.63,341.86 505.94,342.36 506.24,342.86 506.55,343.36 506.85,343.86 507.15,344.36 507.45,344.86 507.76,345.36 508.06,345.86 508.36,346.36 508.66,346.87 508.97,347.37 509.27,347.87 509.58,348.37 509.89,348.87 510.20,349.37 510.51,349.87 510.83,350.37 511.14,350.87 511.46,351.37 511.77,351.87 512.09,352.37 512.41,352.87 512.73,353.37 513.04,353.87 513.36,354.37 513.68,354.87 514.00,355.37 514.31,355.87 514.63,356.37 514.94,356.87 515.25,357.38 515.56,357.88 515.87,358.38 516.18,358.88 516.49,359.38 516.79,359.88 517.09,360.38 517.39,360.88 517.69,361.38 517.98,361.88 518.28,362.38 518.58,362.88 518.88,363.38 519.17,363.88 519.47,364.38 519.77,364.88 520.08,365.38 520.38,365.88 520.69,366.38 521.01,366.88 521.32,367.38 521.64,367.89 521.97,368.39 522.30,368.89 522.63,369.39 522.97,369.89 523.32,370.39 523.68,370.89 524.04,371.39 524.40,371.89 524.78,372.39 525.15,372.89 525.54,373.39 525.92,373.89 526.32,374.39 526.71,374.89 527.11,375.39 527.52,375.89 527.93,376.39 528.33,376.89 528.75,377.39 529.16,377.90 529.58,378.40 529.99,378.90 530.41,379.40 530.83,379.90 531.25,380.40 531.67,380.90 532.09,381.40 532.51,381.90 532.93,382.40 533.34,382.90 533.76,383.40 534.17,383.90 534.58,384.40 534.99,384.90 535.40,385.40 535.80,385.90 536.19,386.40 536.59,386.90 536.97,387.40 537.36,387.90 537.73,388.41 538.10,388.91 538.47,389.41 538.82,389.91 539.17,390.41 539.51,390.91 539.84,391.41 540.16,391.91 540.48,392.41 540.78,392.91 541.07,393.41 541.35,393.91 541.62,394.41 541.88,394.91 542.13,395.41 542.36,395.91 542.58,396.41 542.80,396.91 543.00,397.41 543.19,397.91 543.37,398.42 543.54,398.92 543.69,399.42 543.84,399.92 543.98,400.42 544.10,400.92 544.21,401.42 544.32,401.92 544.41,402.42 544.49,402.92 544.56,403.42 544.63,403.92 544.68,404.42 544.71,404.92 544.74,405.42 544.75,405.92 544.75,406.42 544.73,406.92 544.69,407.42 544.64,407.92 544.57,408.42 544.47,408.93 544.36,409.43 544.22,409.93 544.06,410.43 543.88,410.93 543.67,411.43 543.45,411.93 543.19,412.43 542.92,412.93 542.63,413.43 542.31,413.93 541.97,414.43 541.61,414.93 541.22,415.43 540.82,415.93 540.39,416.43 539.95,416.93 539.48,417.43 538.99,417.93 538.48,418.43 537.96,418.93 537.42,419.44 536.86,419.94 536.28,420.44 535.69,420.94 535.09,421.44 534.48,421.94 533.85,422.44 533.21,422.94 532.57,423.44 531.91,423.94 531.25,424.44 530.58,424.94 529.90,425.44 529.22,425.94 528.53,426.44 527.83,426.94 527.13,427.44 526.43,427.94 525.71,428.44 525.00,428.94 524.28,429.45 523.56,429.95 522.83,430.45 522.10,430.95 521.37,431.45 520.64,431.95 519.90,432.45 519.17,432.95 518.43,433.45 517.70,433.95 516.97,434.45 516.24,434.95 515.51,435.45 514.78,435.95 514.06,436.45 513.35,436.95 512.64,437.45 511.94,437.95 511.24,438.45 510.55,438.95 509.87,439.45 509.20,439.96 508.53,440.46 507.87,440.96 507.22,441.46 506.58,441.96 505.94,442.46 505.31,442.96 504.69,443.46 504.08,443.96 503.47,444.46 502.86,444.96 502.27,445.46 501.68,445.96 501.09,446.46 500.52,446.96 499.94,447.46 499.38,447.96 498.82,448.46 498.26,448.96 497.71,449.46 497.17,449.97 496.63,450.47 496.10,450.97 495.58,451.47 495.07,451.97 494.56,452.47 494.06,452.97 493.57,453.47 493.08,453.97 492.61,454.47 492.14,454.97 491.68,455.47 491.24,455.97 490.80,456.47 490.37,456.97 489.95,457.47 489.54,457.97 489.14,458.47 488.75,458.97 488.37,459.47 488.00,459.97 487.63,460.48 487.27,460.98 486.93,461.48 486.58,461.98 486.25,462.48 485.92,462.98 485.60,463.48 485.28,463.98 484.98,464.48 484.67,464.98 484.37,465.48 484.08,465.98 483.80,466.48 483.51,466.98 483.24,467.48 482.97,467.98 482.70,468.48 482.45,468.98 482.20,469.48 481.95,469.98 481.71,470.48 481.48,470.99 481.25,471.49 481.03,471.99 480.81,472.49 480.61,472.99 480.40,473.49 480.21,473.99 480.02,474.49 479.84,474.99 479.67,475.49 479.50,475.99 479.34,476.49 479.18,476.99 479.03,477.49 478.89,477.99 478.76,478.49 478.63,478.99 478.50,479.49 478.39,479.99 478.28,480.49 478.17,481.00 478.07,481.50 477.98,482.00 477.90,482.50 477.82,483.00 477.74,483.50 477.67,484.00 477.60,484.50 477.53,485.00 477.47,485.50 477.40,486.00 477.40,486.00" fill="#d95f02" fill-opacity="0.5"/>
<line x1="432.1" y1="368" x2="432.1" y2="388.8" stroke="#1a1a1a" stroke-width="1.4"/>
<line x1="432.1" y1="426.2" x2="432.1" y2="449.3" stroke="#1a1a1a" stroke-width="1.4"/>
<rect x="421.3" y="388.8" width="22.19999999999999" height="37.39999999999998" fill="#1b9e77" fill-opacity="0.5" stroke="#1a1a1a" stroke-width="1.4"/>
<line x1="421.3" y1="403.6" x2="443.5" y2="403.6" stroke="#1a1a1a" stroke-width="2.8"/>
<line x1="456.6" y1="325.8" x2="456.6" y2="367.4" stroke="#1a1a1a" stroke-width="1.4"/>
<line x1="456.6" y1="411.3" x2="456.6" y2="440.3" stroke="#1a1a1a" stroke-width="1.4"/>
<rect x="445.6" y="367.4" width="21.899999999999977" height="43.900000000000034" fill="#d95f02" fill-opacity="0.5" stroke="#1a1a1a" stroke-width="1.4"/>
<line x1="445.6" y1="401.6" x2="467.5" y2="401.6" stroke="#1a1a1a" stroke-width="2.8"/>
<circle cx="439.0" cy="367.7" r="1.3" fill="#1b9e77"/>
<circle cx="436.6" cy="372.8" r="1.3" fill="#1b9e77"/>
<circle cx="441.1" cy="371.6" r="1.3" fill="#1b9e77"/>
<circle cx="421.3" cy="385.0" r="1.3" fill="#1b9e77"/>
<circle cx="442.2" cy="383.4" r="1.3" fill="#1b9e77"/>
<circle cx="440.7" cy="392.2" r="1.3" fill="#1b9e77"/>
<circle cx="436.7" cy="395.8" r="1.3" fill="#1b9e77"/>
<circle cx="432.8" cy="400.5" r="1.3" fill="#1b9e77"/>
<circle cx="420.4" cy="402.7" r="1.3" fill="#1b9e77"/>
<circle cx="422.7" cy="418.8" r="1.3" fill="#1b9e77"/>
<circle cx="429.1" cy="423.7" r="1.3" fill="#1b9e77"/>
<circle cx="434.2" cy="426.5" r="1.3" fill="#1b9e77"/>
<circle cx="443.2" cy="422.1" r="1.3" fill="#1b9e77"/>
<circle cx="421.3" cy="434.3" r="1.3" fill="#1b9e77"/>
<circle cx="423.4" cy="437.7" r="1.3" fill="#1b9e77"/>
<circle cx="442.5" cy="442.0" r="1.3" fill="#1b9e77"/>
<circle cx="432.8" cy="449.1" r="1.3" fill="#1b9e77"/>
<circle cx="445.7" cy="325.5" r="1.3" fill="#d95f02"/>
<circle cx="450.4" cy="343.1" r="1.3" fill="#d95f02"/>
<circle cx="466.4" cy="345.6" r="1.3" fill="#d95f02"/>
<circle cx="460.5" cy="357.1" r="1.3" fill="#d95f02"/>
<circle cx="462.6" cy="361.1" r="1.3" fill="#d95f02"/>
<circle cx="467.4" cy="369.4" r="1.3" fill="#d95f02"/>
<circle cx="459.1" cy="383.5" r="1.3" fill="#d95f02"/>
<circle cx="468.8" cy="390.8" r="1.3" fill="#d95f02"/>
<circle cx="461.5" cy="395.8" r="1.3" fill="#d95f02"/>
<circle cx="460.9" cy="406.7" r="1.3" fill="#d95f02"/>
<circle cx="447.6" cy="408.9" r="1.3" fill="#d95f02"/>
<circle cx="450.1" cy="410.1" r="1.3" fill="#d95f02"/>
<circle cx="445.0" cy="419.0" r="1.3" fill="#d95f02"/>
<circle cx="446.2" cy="423.5" r="1.3" fill="#d95f02"/>
<circle cx="457.0" cy="417.2" r="1.3" fill="#d95f02"/>
<circle cx="462.6" cy="420.3" r="1.3" fill="#d95f02"/>
<circle cx="464.2" cy="440.6" r="1.3" fill="#d95f02"/>
<text x="559.5" y="371.6" font-size="15.7" text-anchor="start" fill="#1a1a1a" >Timepoint</text>
<rect x="564.2" y="383.2" width="13.5" height="12.5" fill="#1b9e77" fill-opacity="0.5"/>
<line x1="570.95" y1="383.2" x2="570.95" y2="385.825" stroke="#1a1a1a" stroke-width="1.2"/>
<line x1="570.95" y1="393.075" x2="570.95" y2="395.7" stroke="#1a1a1a" stroke-width="1.2"/>
<rect x="565.4000000000001" y="385.825" width="11.1" height="7.25" fill="#1b9e77" fill-opacity="0.5" stroke="#1a1a1a" stroke-width="1.2"/>
<line x1="565.2" y1="389.45" x2="576.7" y2="389.45" stroke="#1a1a1a" stroke-width="1.6"/>
<rect x="564.2" y="397.9" width="13.5" height="13.5" fill="#d95f02" fill-opacity="0.5"/>
<line x1="570.95" y1="397.9" x2="570.95" y2="400.73499999999996" stroke="#1a1a1a" stroke-width="1.2"/>
<line x1="570.95" y1="408.565" x2="570.95" y2="411.4" stroke="#1a1a1a" stroke-width="1.2"/>
<rect x="565.4000000000001" y="400.73499999999996" width="11.1" height="7.830000000000041" fill="#d95f02" fill-opacity="0.5" stroke="#1a1a1a" stroke-width="1.2"/>
<line x1="565.2" y1="404.65" x2="576.7" y2="404.65" stroke="#1a1a1a" stroke-width="1.6"/>
<text x="578.4" y="395.9" font-size="15.7" text-anchor="start" fill="#1a1a1a" >1st Half</text>
<text x="578.4" y="410.2" font-size="15.7" text-anchor="start" fill="#1a1a1a" >2nd Half</text>
<text transform="translate(333.1,519.6) scale(0.99,1)" font-size="17.4" text-anchor="middle" fill="#1a1a1a" >B. Right-Handers</text>
<polygon points="87.60,590.83 88.60,591.78 89.60,592.72 90.61,593.65 91.61,594.58 92.61,595.50 93.61,596.42 94.61,597.33 95.61,598.23 96.62,599.13 97.62,600.02 98.62,600.91 99.62,601.79 100.62,602.66 101.63,603.53 102.63,604.39 103.63,605.25 104.63,606.10 105.63,606.95 106.63,607.79 107.64,608.62 108.64,609.45 109.64,610.28 110.64,611.09 111.64,611.91 112.65,612.71 113.65,613.52 114.65,614.31 115.65,615.10 116.65,615.89 117.65,616.67 118.66,617.45 119.66,618.22 120.66,618.98 121.66,619.74 122.66,620.50 123.67,621.25 124.67,621.99 125.67,622.73 126.67,623.47 127.67,624.19 128.67,624.92 129.68,625.64 130.68,626.35 131.68,627.06 132.68,627.77 133.68,628.47 134.69,629.16 135.69,629.85 136.69,630.54 137.69,631.22 138.69,631.90 139.69,632.57 140.70,633.24 141.70,633.90 142.70,634.56 143.70,635.21 144.70,635.86 145.71,636.51 146.71,637.15 147.71,637.78 148.71,638.41 149.71,639.04 150.71,639.66 151.72,640.28 152.72,640.89 153.72,641.50 154.72,642.11 155.72,642.71 156.73,643.31 157.73,643.90 158.73,644.49 159.73,645.08 160.73,645.66 161.73,646.23 162.74,646.81 163.74,647.38 164.74,647.94 165.74,648.50 166.74,649.06 167.75,649.61 168.75,650.16 169.75,650.71 170.75,651.25 171.75,651.79 172.75,652.32 173.76,652.85 174.76,653.38 175.76,653.91 176.76,654.43 177.76,654.94 178.77,655.46 179.77,655.97 180.77,656.47 181.77,656.97 182.77,657.47 183.77,657.97 184.78,658.46 185.78,658.95 186.78,659.44 187.78,659.92 188.78,660.40 189.79,660.88 190.79,661.35 191.79,661.82 192.79,662.29 193.79,662.75 194.79,663.21 195.80,663.67 196.80,664.12 197.80,664.57 198.80,665.02 199.80,665.46 200.81,665.91 201.81,666.34 202.81,666.78 203.81,667.21 204.81,667.64 205.81,668.06 206.82,668.49 207.82,668.90 208.82,669.32 209.82,669.73 210.82,670.14 211.83,670.54 212.83,670.95 213.83,671.35 214.83,671.74 215.83,672.13 216.83,672.52 217.84,672.91 218.84,673.29 219.84,673.67 220.84,674.04 221.84,674.42 222.85,674.79 223.85,675.15 224.85,675.51 225.85,675.87 226.85,676.23 227.85,676.58 228.86,676.93 229.86,677.27 230.86,677.62 231.86,677.95 232.86,678.29 233.87,678.62 234.87,678.95 235.87,679.27 236.87,679.59 237.87,679.91 238.87,680.23 239.88,680.54 240.88,680.85 241.88,681.15 242.88,681.45 243.88,681.75 244.89,682.04 245.89,682.33 246.89,682.62 247.89,682.90 248.89,683.18 249.89,683.46 250.90,683.73 251.90,684.00 252.90,684.27 253.90,684.53 254.90,684.79 255.91,685.04 256.91,685.29 257.91,685.54 258.91,685.78 259.91,686.03 260.91,686.26 261.92,686.50 262.92,686.73 263.92,686.95 264.92,687.18 265.92,687.40 266.93,687.61 267.93,687.82 268.93,688.03 269.93,688.24 270.93,688.44 271.93,688.64 272.94,688.83 273.94,689.02 274.94,689.21 275.94,689.39 276.94,689.57 277.95,689.74 278.95,689.91 279.95,690.08 280.95,690.24 281.95,690.40 282.95,690.55 283.96,690.70 284.96,690.85 285.96,690.99 286.96,691.12 287.96,691.26 288.97,691.38 289.97,691.51 290.97,691.62 291.97,691.74 292.97,691.85 293.97,691.95 294.98,692.05 295.98,692.15 296.98,692.24 297.98,692.32 298.98,692.41 299.99,692.49 300.99,692.56 301.99,692.63 302.99,692.70 303.99,692.77 304.99,692.83 306.00,692.88 307.00,692.94 308.00,692.99 309.00,693.04 310.00,693.08 311.01,693.12 312.01,693.16 313.01,693.20 314.01,693.23 315.01,693.26 316.01,693.29 317.02,693.31 318.02,693.33 319.02,693.35 320.02,693.37 321.02,693.39 322.03,693.40 323.03,693.41 324.03,693.42 325.03,693.43 326.03,693.43 327.03,693.44 328.04,693.44 329.04,693.44 330.04,693.44 331.04,693.44 332.04,693.43 333.05,693.43 334.05,693.42 335.05,693.42 336.05,693.41 337.05,693.40 338.05,693.39 339.06,693.37 340.06,693.36 341.06,693.34 342.06,693.32 343.06,693.30 344.07,693.28 345.07,693.26 346.07,693.24 347.07,693.21 348.07,693.18 349.07,693.15 350.08,693.12 351.08,693.08 352.08,693.05 353.08,693.01 354.08,692.97 355.09,692.92 356.09,692.88 357.09,692.83 358.09,692.78 359.09,692.73 360.09,692.67 361.10,692.62 362.10,692.56 363.10,692.50 364.10,692.43 365.10,692.37 366.11,692.30 367.11,692.23 368.11,692.15 369.11,692.08 370.11,692.00 371.11,691.91 372.12,691.83 373.12,691.74 374.12,691.65 375.12,691.56 376.12,691.46 377.13,691.36 378.13,691.26 379.13,691.15 380.13,691.04 381.13,690.93 382.13,690.82 383.14,690.70 384.14,690.58 385.14,690.45 386.14,690.32 387.14,690.19 388.15,690.06 389.15,689.92 390.15,689.78 391.15,689.63 392.15,689.49 393.15,689.33 394.16,689.18 395.16,689.02 396.16,688.86 397.16,688.69 398.16,688.52 399.17,688.34 400.17,688.17 401.17,687.98 402.17,687.80 403.17,687.61 404.17,687.41 405.18,687.22 406.18,687.01 407.18,686.81 408.18,686.60 409.18,686.38 410.19,686.17 411.19,685.94 412.19,685.72 413.19,685.48 414.19,685.25 415.19,685.01 416.20,684.76 417.20,684.52 418.20,684.26 419.20,684.00 420.20,683.74 421.21,683.47 422.21,683.20 423.21,682.93 424.21,682.64 425.21,682.36 426.21,682.07 427.22,681.77 428.22,681.47 429.22,681.17 430.22,680.86 431.22,680.54 432.23,680.22 433.23,679.89 434.23,679.56 435.23,679.23 436.23,678.89 437.23,678.54 438.24,678.19 439.24,677.83 440.24,677.47 441.24,677.10 442.24,676.73 443.25,676.35 444.25,675.97 445.25,675.58 446.25,675.18 447.25,674.78 448.25,674.37 449.26,673.96 450.26,673.54 451.26,673.11 452.26,672.67 453.26,672.23 454.27,671.78 455.27,671.32 456.27,670.86 457.27,670.39 458.27,669.91 459.27,669.42 460.28,668.93 461.28,668.42 462.28,667.91 463.28,667.39 464.28,666.87 465.29,666.33 466.29,665.79 467.29,665.23 468.29,664.67 469.29,664.10 470.29,663.52 471.30,662.93 472.30,662.33 473.30,661.72 474.30,661.10 475.30,660.47 476.31,659.83 477.31,659.18 478.31,658.52 479.31,657.85 480.31,657.17 481.31,656.48 482.32,655.78 483.32,655.07 484.32,654.35 485.32,653.61 486.32,652.87 487.33,652.12 488.33,651.36 489.33,650.58 490.33,649.80 491.33,649.01 492.33,648.21 493.34,647.39 494.34,646.57 495.34,645.74 496.34,644.90 497.34,644.06 498.35,643.20 499.35,642.33 500.35,641.45 501.35,640.57 502.35,639.68 503.35,638.77 504.36,637.86 505.36,636.94 506.36,636.02 507.36,635.08 508.36,634.14 509.37,633.18 510.37,632.22 511.37,631.25 512.37,630.28 513.37,629.29 514.37,628.30 515.38,627.30 516.38,626.29 517.38,625.28 518.38,624.26 519.38,623.23 520.39,622.19 521.39,621.15 522.39,620.10 523.39,619.04 524.39,617.97 525.39,616.90 526.40,615.82 527.40,614.74 528.40,613.64 529.40,612.55 530.40,611.44 531.41,610.33 532.41,609.21 533.41,608.09 534.41,606.96 535.41,605.82 536.41,604.68 537.42,603.53 538.42,602.37 539.42,601.21 540.42,600.05 541.42,598.87 542.43,597.70 543.43,596.51 544.43,595.32 545.43,594.13 546.43,592.93 547.43,591.72 548.44,590.51 549.44,589.30 550.44,588.08 551.44,586.85 552.44,585.62 553.45,584.38 554.45,583.14 555.45,581.90 556.45,580.65 557.45,579.40 558.45,578.14 559.46,576.87 560.46,575.61 561.46,574.33 562.46,573.06 563.46,571.78 564.47,570.49 565.47,569.21 566.47,567.91 567.47,566.62 568.47,565.32 569.47,564.02 570.48,562.71 571.48,561.40 572.48,560.08 573.48,558.77 574.48,557.45 575.49,556.12 576.49,554.80 577.49,553.47 578.49,552.13 579.49,550.80 580.49,549.46 581.50,548.12 582.50,546.77 583.50,545.43 583.50,598.37 582.50,599.43 581.50,600.48 580.49,601.54 579.49,602.60 578.49,603.67 577.49,604.73 576.49,605.80 575.49,606.86 574.48,607.93 573.48,609.00 572.48,610.07 571.48,611.14 570.48,612.21 569.47,613.28 568.47,614.36 567.47,615.43 566.47,616.50 565.47,617.58 564.47,618.65 563.46,619.72 562.46,620.79 561.46,621.87 560.46,622.94 559.46,624.01 558.45,625.08 557.45,626.15 556.45,627.22 555.45,628.28 554.45,629.35 553.45,630.41 552.44,631.47 551.44,632.54 550.44,633.59 549.44,634.65 548.44,635.71 547.43,636.76 546.43,637.81 545.43,638.86 544.43,639.90 543.43,640.95 542.43,641.99 541.42,643.02 540.42,644.06 539.42,645.09 538.42,646.12 537.42,647.14 536.41,648.16 535.41,649.18 534.41,650.19 533.41,651.20 532.41,652.21 531.41,653.21 530.40,654.20 529.40,655.20 528.40,656.18 527.40,657.17 526.40,658.15 525.39,659.12 524.39,660.09 523.39,661.05 522.39,662.01 521.39,662.96 520.39,663.91 519.38,664.85 518.38,665.79 517.38,666.72 516.38,667.64 515.38,668.56 514.37,669.47 513.37,670.38 512.37,671.28 511.37,672.17 510.37,673.06 509.37,673.94 508.36,674.81 507.36,675.68 506.36,676.54 505.36,677.39 504.36,678.24 503.35,679.08 502.35,679.91 501.35,680.74 500.35,681.55 499.35,682.36 498.35,683.16 497.34,683.96 496.34,684.74 495.34,685.52 494.34,686.29 493.34,687.05 492.33,687.81 491.33,688.55 490.33,689.29 489.33,690.02 488.33,690.74 487.33,691.45 486.32,692.15 485.32,692.84 484.32,693.52 483.32,694.20 482.32,694.86 481.31,695.52 480.31,696.17 479.31,696.80 478.31,697.43 477.31,698.05 476.31,698.66 475.30,699.26 474.30,699.85 473.30,700.43 472.30,701.00 471.30,701.57 470.29,702.12 469.29,702.67 468.29,703.21 467.29,703.74 466.29,704.26 465.29,704.78 464.28,705.28 463.28,705.78 462.28,706.27 461.28,706.76 460.28,707.24 459.27,707.70 458.27,708.17 457.27,708.62 456.27,709.07 455.27,709.51 454.27,709.95 453.26,710.38 452.26,710.80 451.26,711.22 450.26,711.62 449.26,712.03 448.25,712.43 447.25,712.82 446.25,713.21 445.25,713.59 444.25,713.96 443.25,714.33 442.24,714.70 441.24,715.06 440.24,715.41 439.24,715.76 438.24,716.11 437.23,716.45 436.23,716.78 435.23,717.11 434.23,717.44 433.23,717.76 432.23,718.08 431.22,718.39 430.22,718.70 429.22,719.01 428.22,719.31 427.22,719.60 426.21,719.89 425.21,720.18 424.21,720.46 423.21,720.74 422.21,721.01 421.21,721.28 420.20,721.54 419.20,721.81 418.20,722.06 417.20,722.32 416.20,722.56 415.19,722.81 414.19,723.05 413.19,723.29 412.19,723.52 411.19,723.75 410.19,723.97 409.18,724.20 408.18,724.41 407.18,724.63 406.18,724.84 405.18,725.04 404.17,725.25 403.17,725.45 402.17,725.64 401.17,725.84 400.17,726.02 399.17,726.21 398.16,726.39 397.16,726.57 396.16,726.75 395.16,726.92 394.16,727.09 393.15,727.25 392.15,727.41 391.15,727.57 390.15,727.73 389.15,727.88 388.15,728.03 387.14,728.18 386.14,728.32 385.14,728.46 384.14,728.60 383.14,728.74 382.13,728.87 381.13,729.00 380.13,729.12 379.13,729.25 378.13,729.37 377.13,729.49 376.12,729.60 375.12,729.72 374.12,729.83 373.12,729.93 372.12,730.04 371.11,730.14 370.11,730.24 369.11,730.34 368.11,730.44 367.11,730.53 366.11,730.62 365.10,730.71 364.10,730.79 363.10,730.88 362.10,730.96 361.10,731.04 360.09,731.12 359.09,731.19 358.09,731.27 357.09,731.34 356.09,731.41 355.09,731.47 354.08,731.54 353.08,731.60 352.08,731.66 351.08,731.72 350.08,731.78 349.07,731.84 348.07,731.89 347.07,731.95 346.07,732.00 345.07,732.05 344.07,732.10 343.06,732.14 342.06,732.19 341.06,732.23 340.06,732.27 339.06,732.31 338.05,732.35 337.05,732.39 336.05,732.43 335.05,732.46 334.05,732.50 333.05,732.53 332.04,732.56 331.04,732.59 330.04,732.62 329.04,732.65 328.04,732.68 327.03,732.71 326.03,732.73 325.03,732.75 324.03,732.78 323.03,732.80 322.03,732.82 321.02,732.83 320.02,732.85 319.02,732.86 318.02,732.87 317.02,732.88 316.01,732.88 315.01,732.88 314.01,732.88 313.01,732.88 312.01,732.88 311.01,732.87 310.00,732.85 309.00,732.84 308.00,732.82 307.00,732.80 306.00,732.77 304.99,732.74 303.99,732.71 302.99,732.67 301.99,732.63 300.99,732.58 299.99,732.53 298.98,732.47 297.98,732.41 296.98,732.35 295.98,732.28 294.98,732.20 293.97,732.12 292.97,732.04 291.97,731.95 290.97,731.85 289.97,731.75 288.97,731.64 287.96,731.53 286.96,731.41 285.96,731.28 284.96,731.15 283.96,731.02 282.95,730.87 281.95,730.73 280.95,730.57 279.95,730.41 278.95,730.25 277.95,730.08 276.94,729.90 275.94,729.72 274.94,729.53 273.94,729.34 272.94,729.14 271.93,728.93 270.93,728.72 269.93,728.51 268.93,728.29 267.93,728.06 266.93,727.83 265.92,727.59 264.92,727.35 263.92,727.10 262.92,726.84 261.92,726.58 260.91,726.32 259.91,726.05 258.91,725.78 257.91,725.50 256.91,725.21 255.91,724.93 254.90,724.63 253.90,724.33 252.90,724.03 251.90,723.72 250.90,723.41 249.89,723.09 248.89,722.77 247.89,722.45 246.89,722.12 245.89,721.78 244.89,721.45 243.88,721.10 242.88,720.76 241.88,720.41 240.88,720.05 239.88,719.69 238.87,719.33 237.87,718.97 236.87,718.60 235.87,718.22 234.87,717.84 233.87,717.46 232.86,717.08 231.86,716.69 230.86,716.30 229.86,715.91 228.86,715.51 227.85,715.11 226.85,714.70 225.85,714.30 224.85,713.89 223.85,713.47 222.85,713.06 221.84,712.64 220.84,712.21 219.84,711.79 218.84,711.36 217.84,710.93 216.83,710.50 215.83,710.06 214.83,709.62 213.83,709.18 212.83,708.74 211.83,708.30 210.82,707.85 209.82,707.40 208.82,706.95 207.82,706.49 206.82,706.04 205.81,705.58 204.81,705.12 203.81,704.66 202.81,704.19 201.81,703.73 200.81,703.26 199.80,702.79 198.80,702.32 197.80,701.85 196.80,701.38 195.80,700.90 194.79,700.43 193.79,699.95 192.79,699.47 191.79,698.99 190.79,698.51 189.79,698.03 188.78,697.54 187.78,697.06 186.78,696.57 185.78,696.09 184.78,695.60 183.77,695.11 182.77,694.62 181.77,694.13 180.77,693.64 179.77,693.15 178.77,692.66 177.76,692.17 176.76,691.67 175.76,691.18 174.76,690.68 173.76,690.19 172.75,689.69 171.75,689.19 170.75,688.70 169.75,688.20 168.75,687.70 167.75,687.20 166.74,686.70 165.74,686.20 164.74,685.70 163.74,685.20 162.74,684.69 161.73,684.19 160.73,683.69 159.73,683.19 158.73,682.68 157.73,682.18 156.73,681.67 155.72,681.17 154.72,680.66 153.72,680.16 152.72,679.65 151.72,679.15 150.71,678.64 149.71,678.14 148.71,677.63 147.71,677.12 146.71,676.62 145.71,676.11 144.70,675.61 143.70,675.10 142.70,674.59 141.70,674.09 140.70,673.58 139.69,673.07 138.69,672.57 137.69,672.06 136.69,671.56 135.69,671.05 134.69,670.55 133.68,670.04 132.68,669.53 131.68,669.03 130.68,668.52 129.68,668.02 128.67,667.52 127.67,667.01 126.67,666.51 125.67,666.01 124.67,665.50 123.67,665.00 122.66,664.50 121.66,664.00 120.66,663.50 119.66,663.00 118.66,662.50 117.65,662.00 116.65,661.50 115.65,661.00 114.65,660.50 113.65,660.01 112.65,659.51 111.64,659.02 110.64,658.52 109.64,658.03 108.64,657.54 107.64,657.04 106.63,656.55 105.63,656.06 104.63,655.57 103.63,655.08 102.63,654.59 101.63,654.11 100.62,653.62 99.62,653.13 98.62,652.65 97.62,652.17 96.62,651.68 95.61,651.20 94.61,650.72 93.61,650.24 92.61,649.76 91.61,649.29 90.61,648.81 89.60,648.34 88.60,647.86 87.60,647.39" fill="rgba(178,178,178,0.46)"/>
<polygon points="89.80,536.96 90.80,538.29 91.80,539.61 92.80,540.92 93.81,542.23 94.81,543.53 95.81,544.83 96.81,546.12 97.81,547.40 98.81,548.67 99.81,549.94 100.82,551.20 101.82,552.46 102.82,553.71 103.82,554.95 104.82,556.18 105.82,557.41 106.82,558.63 107.83,559.84 108.83,561.05 109.83,562.25 110.83,563.44 111.83,564.63 112.83,565.81 113.83,566.98 114.84,568.14 115.84,569.30 116.84,570.45 117.84,571.60 118.84,572.74 119.84,573.87 120.84,574.99 121.85,576.11 122.85,577.22 123.85,578.32 124.85,579.42 125.85,580.51 126.85,581.59 127.85,582.67 128.86,583.74 129.86,584.80 130.86,585.86 131.86,586.91 132.86,587.95 133.86,588.98 134.86,590.01 135.87,591.03 136.87,592.05 137.87,593.06 138.87,594.06 139.87,595.05 140.87,596.04 141.87,597.02 142.88,597.99 143.88,598.96 144.88,599.92 145.88,600.87 146.88,601.81 147.88,602.75 148.88,603.68 149.89,604.61 150.89,605.53 151.89,606.44 152.89,607.34 153.89,608.24 154.89,609.13 155.89,610.01 156.90,610.89 157.90,611.76 158.90,612.62 159.90,613.47 160.90,614.32 161.90,615.17 162.90,616.00 163.91,616.83 164.91,617.65 165.91,618.46 166.91,619.27 167.91,620.07 168.91,620.86 169.91,621.65 170.92,622.43 171.92,623.20 172.92,623.96 173.92,624.72 174.92,625.47 175.92,626.22 176.92,626.96 177.92,627.69 178.93,628.41 179.93,629.13 180.93,629.84 181.93,630.54 182.93,631.23 183.93,631.92 184.93,632.60 185.94,633.28 186.94,633.95 187.94,634.61 188.94,635.26 189.94,635.91 190.94,636.55 191.94,637.18 192.95,637.81 193.95,638.42 194.95,639.04 195.95,639.64 196.95,640.24 197.95,640.83 198.95,641.42 199.96,642.00 200.96,642.57 201.96,643.13 202.96,643.69 203.96,644.24 204.96,644.79 205.96,645.33 206.97,645.86 207.97,646.39 208.97,646.91 209.97,647.42 210.97,647.93 211.97,648.43 212.97,648.92 213.98,649.41 214.98,649.89 215.98,650.37 216.98,650.84 217.98,651.30 218.98,651.76 219.98,652.21 220.99,652.66 221.99,653.10 222.99,653.53 223.99,653.96 224.99,654.39 225.99,654.80 226.99,655.21 228.00,655.62 229.00,656.02 230.00,656.41 231.00,656.80 232.00,657.18 233.00,657.56 234.00,657.93 235.01,658.30 236.01,658.66 237.01,659.02 238.01,659.37 239.01,659.71 240.01,660.05 241.01,660.39 242.02,660.72 243.02,661.04 244.02,661.36 245.02,661.67 246.02,661.98 247.02,662.29 248.02,662.58 249.03,662.88 250.03,663.17 251.03,663.45 252.03,663.73 253.03,664.00 254.03,664.27 255.03,664.54 256.04,664.80 257.04,665.05 258.04,665.30 259.04,665.55 260.04,665.79 261.04,666.03 262.04,666.26 263.05,666.49 264.05,666.71 265.05,666.93 266.05,667.15 267.05,667.36 268.05,667.56 269.05,667.76 270.06,667.96 271.06,668.15 272.06,668.34 273.06,668.53 274.06,668.71 275.06,668.88 276.06,669.06 277.07,669.23 278.07,669.39 279.07,669.55 280.07,669.71 281.07,669.86 282.07,670.01 283.07,670.15 284.08,670.29 285.08,670.43 286.08,670.56 287.08,670.69 288.08,670.82 289.08,670.94 290.08,671.05 291.09,671.17 292.09,671.28 293.09,671.38 294.09,671.49 295.09,671.59 296.09,671.68 297.09,671.77 298.10,671.86 299.10,671.94 300.10,672.02 301.10,672.10 302.10,672.17 303.10,672.24 304.10,672.31 305.11,672.37 306.11,672.43 307.11,672.48 308.11,672.53 309.11,672.58 310.11,672.63 311.11,672.67 312.12,672.70 313.12,672.74 314.12,672.77 315.12,672.79 316.12,672.82 317.12,672.84 318.12,672.85 319.13,672.86 320.13,672.87 321.13,672.88 322.13,672.88 323.13,672.88 324.13,672.88 325.13,672.87 326.14,672.86 327.14,672.84 328.14,672.82 329.14,672.80 330.14,672.78 331.14,672.75 332.14,672.72 333.15,672.68 334.15,672.64 335.15,672.60 336.15,672.56 337.15,672.51 338.15,672.46 339.15,672.40 340.15,672.34 341.16,672.28 342.16,672.22 343.16,672.15 344.16,672.08 345.16,672.01 346.16,671.93 347.16,671.85 348.17,671.77 349.17,671.68 350.17,671.59 351.17,671.50 352.17,671.40 353.17,671.30 354.17,671.20 355.18,671.09 356.18,670.99 357.18,670.87 358.18,670.76 359.18,670.64 360.18,670.52 361.18,670.40 362.19,670.27 363.19,670.14 364.19,670.01 365.19,669.87 366.19,669.73 367.19,669.59 368.19,669.45 369.20,669.30 370.20,669.15 371.20,669.00 372.20,668.84 373.20,668.68 374.20,668.52 375.20,668.35 376.21,668.19 377.21,668.02 378.21,667.84 379.21,667.67 380.21,667.49 381.21,667.31 382.21,667.12 383.22,666.93 384.22,666.74 385.22,666.55 386.22,666.35 387.22,666.16 388.22,665.95 389.22,665.75 390.23,665.54 391.23,665.33 392.23,665.12 393.23,664.91 394.23,664.69 395.23,664.47 396.23,664.25 397.24,664.02 398.24,663.79 399.24,663.56 400.24,663.33 401.24,663.09 402.24,662.86 403.24,662.61 404.25,662.37 405.25,662.13 406.25,661.88 407.25,661.63 408.25,661.37 409.25,661.12 410.25,660.86 411.26,660.59 412.26,660.33 413.26,660.07 414.26,659.80 415.26,659.53 416.26,659.25 417.26,658.98 418.27,658.70 419.27,658.42 420.27,658.13 421.27,657.85 422.27,657.56 423.27,657.27 424.27,656.98 425.28,656.68 426.28,656.38 427.28,656.08 428.28,655.78 429.28,655.48 430.28,655.17 431.28,654.86 432.29,654.55 433.29,654.24 434.29,653.92 435.29,653.60 436.29,653.28 437.29,652.96 438.29,652.64 439.30,652.31 440.30,651.98 441.30,651.65 442.30,651.32 443.30,650.98 444.30,650.64 445.30,650.30 446.31,649.96 447.31,649.62 448.31,649.27 449.31,648.92 450.31,648.57 451.31,648.21 452.31,647.86 453.32,647.50 454.32,647.13 455.32,646.77 456.32,646.40 457.32,646.03 458.32,645.66 459.32,645.28 460.33,644.91 461.33,644.53 462.33,644.14 463.33,643.76 464.33,643.37 465.33,642.97 466.33,642.58 467.34,642.18 468.34,641.78 469.34,641.38 470.34,640.97 471.34,640.56 472.34,640.15 473.34,639.73 474.35,639.31 475.35,638.89 476.35,638.47 477.35,638.04 478.35,637.61 479.35,637.17 480.35,636.73 481.36,636.29 482.36,635.85 483.36,635.40 484.36,634.95 485.36,634.49 486.36,634.03 487.36,633.57 488.37,633.10 489.37,632.63 490.37,632.16 491.37,631.68 492.37,631.20 493.37,630.72 494.37,630.23 495.38,629.73 496.38,629.24 497.38,628.74 498.38,628.23 499.38,627.72 500.38,627.21 501.38,626.69 502.38,626.17 503.39,625.64 504.39,625.11 505.39,624.58 506.39,624.04 507.39,623.49 508.39,622.95 509.39,622.39 510.40,621.84 511.40,621.27 512.40,620.71 513.40,620.13 514.40,619.56 515.40,618.97 516.40,618.39 517.41,617.80 518.41,617.20 519.41,616.60 520.41,615.99 521.41,615.38 522.41,614.76 523.41,614.14 524.42,613.51 525.42,612.88 526.42,612.24 527.42,611.59 528.42,610.95 529.42,610.29 530.42,609.63 531.43,608.96 532.43,608.29 533.43,607.61 534.43,606.93 535.43,606.24 536.43,605.55 537.43,604.84 538.44,604.14 539.44,603.42 540.44,602.71 541.44,601.98 542.44,601.25 543.44,600.51 544.44,599.77 545.45,599.02 546.45,598.26 547.45,597.50 548.45,596.73 549.45,595.96 550.45,595.17 551.45,594.38 552.46,593.59 553.46,592.79 554.46,591.98 555.46,591.16 556.46,590.34 557.46,589.51 558.46,588.68 559.47,587.84 560.47,586.99 561.47,586.13 562.47,585.27 563.47,584.39 564.47,583.52 565.47,582.63 566.48,581.74 567.48,580.84 568.48,579.93 569.48,579.02 570.48,578.10 571.48,577.17 572.48,576.23 573.49,575.29 574.49,574.33 575.49,573.37 576.49,572.41 577.49,571.43 578.49,570.45 579.49,569.46 580.50,568.46 581.50,567.45 582.50,566.44 583.50,565.42 583.50,630.35 582.50,630.74 581.50,631.14 580.50,631.54 579.49,631.95 578.49,632.35 577.49,632.75 576.49,633.16 575.49,633.57 574.49,633.98 573.49,634.39 572.48,634.80 571.48,635.22 570.48,635.63 569.48,636.05 568.48,636.47 567.48,636.89 566.48,637.31 565.47,637.73 564.47,638.15 563.47,638.58 562.47,639.00 561.47,639.43 560.47,639.86 559.47,640.29 558.46,640.72 557.46,641.15 556.46,641.58 555.46,642.02 554.46,642.45 553.46,642.89 552.46,643.32 551.45,643.76 550.45,644.20 549.45,644.64 548.45,645.08 547.45,645.52 546.45,645.96 545.45,646.41 544.44,646.85 543.44,647.29 542.44,647.74 541.44,648.18 540.44,648.63 539.44,649.08 538.44,649.52 537.43,649.97 536.43,650.42 535.43,650.87 534.43,651.32 533.43,651.77 532.43,652.22 531.43,652.67 530.42,653.12 529.42,653.57 528.42,654.02 527.42,654.47 526.42,654.93 525.42,655.38 524.42,655.83 523.41,656.28 522.41,656.74 521.41,657.19 520.41,657.64 519.41,658.10 518.41,658.55 517.41,659.00 516.40,659.46 515.40,659.91 514.40,660.37 513.40,660.82 512.40,661.27 511.40,661.73 510.40,662.18 509.39,662.63 508.39,663.09 507.39,663.54 506.39,663.99 505.39,664.44 504.39,664.89 503.39,665.35 502.38,665.80 501.38,666.25 500.38,666.70 499.38,667.15 498.38,667.60 497.38,668.05 496.38,668.50 495.38,668.94 494.37,669.39 493.37,669.84 492.37,670.28 491.37,670.73 490.37,671.18 489.37,671.62 488.37,672.06 487.36,672.51 486.36,672.95 485.36,673.39 484.36,673.83 483.36,674.27 482.36,674.71 481.36,675.15 480.35,675.59 479.35,676.02 478.35,676.46 477.35,676.89 476.35,677.32 475.35,677.76 474.35,678.19 473.34,678.62 472.34,679.05 471.34,679.47 470.34,679.90 469.34,680.32 468.34,680.75 467.34,681.17 466.33,681.59 465.33,682.01 464.33,682.42 463.33,682.84 462.33,683.25 461.33,683.66 460.33,684.08 459.32,684.48 458.32,684.89 457.32,685.29 456.32,685.70 455.32,686.10 454.32,686.50 453.32,686.89 452.31,687.29 451.31,687.68 450.31,688.07 449.31,688.46 448.31,688.84 447.31,689.23 446.31,689.61 445.30,689.99 444.30,690.36 443.30,690.74 442.30,691.11 441.30,691.48 440.30,691.84 439.30,692.20 438.29,692.57 437.29,692.92 436.29,693.28 435.29,693.63 434.29,693.98 433.29,694.33 432.29,694.67 431.28,695.01 430.28,695.35 429.28,695.69 428.28,696.02 427.28,696.35 426.28,696.68 425.28,697.01 424.27,697.33 423.27,697.65 422.27,697.97 421.27,698.28 420.27,698.59 419.27,698.90 418.27,699.21 417.26,699.51 416.26,699.81 415.26,700.11 414.26,700.41 413.26,700.70 412.26,700.99 411.26,701.28 410.25,701.57 409.25,701.85 408.25,702.13 407.25,702.41 406.25,702.68 405.25,702.96 404.25,703.23 403.24,703.49 402.24,703.76 401.24,704.02 400.24,704.28 399.24,704.54 398.24,704.79 397.24,705.04 396.23,705.29 395.23,705.54 394.23,705.78 393.23,706.02 392.23,706.26 391.23,706.50 390.23,706.73 389.22,706.96 388.22,707.19 387.22,707.42 386.22,707.64 385.22,707.86 384.22,708.08 383.22,708.29 382.21,708.51 381.21,708.72 380.21,708.92 379.21,709.13 378.21,709.33 377.21,709.53 376.21,709.73 375.20,709.92 374.20,710.12 373.20,710.31 372.20,710.49 371.20,710.68 370.20,710.86 369.20,711.04 368.19,711.22 367.19,711.39 366.19,711.56 365.19,711.73 364.19,711.90 363.19,712.06 362.19,712.22 361.18,712.38 360.18,712.54 359.18,712.69 358.18,712.85 357.18,713.00 356.18,713.14 355.18,713.29 354.17,713.43 353.17,713.57 352.17,713.70 351.17,713.84 350.17,713.97 349.17,714.10 348.17,714.22 347.16,714.35 346.16,714.47 345.16,714.59 344.16,714.71 343.16,714.82 342.16,714.93 341.16,715.04 340.15,715.15 339.15,715.25 338.15,715.35 337.15,715.45 336.15,715.55 335.15,715.64 334.15,715.74 333.15,715.83 332.14,715.91 331.14,716.00 330.14,716.08 329.14,716.16 328.14,716.24 327.14,716.31 326.14,716.38 325.13,716.45 324.13,716.52 323.13,716.58 322.13,716.65 321.13,716.71 320.13,716.76 319.13,716.82 318.12,716.87 317.12,716.92 316.12,716.97 315.12,717.01 314.12,717.06 313.12,717.09 312.12,717.13 311.11,717.16 310.11,717.19 309.11,717.22 308.11,717.24 307.11,717.26 306.11,717.28 305.11,717.29 304.10,717.30 303.10,717.30 302.10,717.31 301.10,717.30 300.10,717.30 299.10,717.29 298.10,717.27 297.09,717.25 296.09,717.23 295.09,717.20 294.09,717.17 293.09,717.13 292.09,717.09 291.09,717.04 290.08,716.99 289.08,716.94 288.08,716.88 287.08,716.81 286.08,716.74 285.08,716.66 284.08,716.58 283.07,716.49 282.07,716.40 281.07,716.30 280.07,716.20 279.07,716.09 278.07,715.97 277.07,715.85 276.06,715.72 275.06,715.58 274.06,715.44 273.06,715.30 272.06,715.14 271.06,714.98 270.06,714.81 269.05,714.64 268.05,714.46 267.05,714.27 266.05,714.08 265.05,713.88 264.05,713.67 263.05,713.45 262.04,713.23 261.04,713.00 260.04,712.77 259.04,712.52 258.04,712.27 257.04,712.02 256.04,711.75 255.03,711.48 254.03,711.20 253.03,710.92 252.03,710.63 251.03,710.33 250.03,710.02 249.03,709.71 248.02,709.39 247.02,709.06 246.02,708.72 245.02,708.38 244.02,708.03 243.02,707.67 242.02,707.31 241.01,706.94 240.01,706.56 239.01,706.17 238.01,705.77 237.01,705.37 236.01,704.96 235.01,704.55 234.00,704.12 233.00,703.69 232.00,703.25 231.00,702.81 230.00,702.35 229.00,701.89 228.00,701.42 226.99,700.94 225.99,700.46 224.99,699.97 223.99,699.47 222.99,698.96 221.99,698.44 220.99,697.92 219.98,697.39 218.98,696.85 217.98,696.30 216.98,695.75 215.98,695.19 214.98,694.62 213.98,694.04 212.97,693.46 211.97,692.87 210.97,692.27 209.97,691.67 208.97,691.06 207.97,690.44 206.97,689.82 205.96,689.19 204.96,688.55 203.96,687.90 202.96,687.25 201.96,686.60 200.96,685.94 199.96,685.27 198.95,684.60 197.95,683.92 196.95,683.23 195.95,682.54 194.95,681.85 193.95,681.15 192.95,680.44 191.94,679.73 190.94,679.01 189.94,678.29 188.94,677.57 187.94,676.83 186.94,676.10 185.94,675.36 184.93,674.62 183.93,673.87 182.93,673.12 181.93,672.36 180.93,671.60 179.93,670.84 178.93,670.07 177.92,669.30 176.92,668.53 175.92,667.75 174.92,666.98 173.92,666.19 172.92,665.41 171.92,664.62 170.92,663.84 169.91,663.04 168.91,662.25 167.91,661.46 166.91,660.66 165.91,659.86 164.91,659.06 163.91,658.26 162.90,657.46 161.90,656.65 160.90,655.85 159.90,655.05 158.90,654.24 157.90,653.43 156.90,652.63 155.89,651.82 154.89,651.01 153.89,650.20 152.89,649.40 151.89,648.59 150.89,647.79 149.89,646.98 148.88,646.17 147.88,645.37 146.88,644.57 145.88,643.77 144.88,642.97 143.88,642.17 142.88,641.37 141.87,640.57 140.87,639.78 139.87,638.99 138.87,638.20 137.87,637.41 136.87,636.62 135.87,635.84 134.86,635.06 133.86,634.28 132.86,633.51 131.86,632.73 130.86,631.96 129.86,631.20 128.86,630.43 127.85,629.67 126.85,628.92 125.85,628.16 124.85,627.41 123.85,626.67 122.85,625.92 121.85,625.19 120.84,624.45 119.84,623.72 118.84,623.00 117.84,622.27 116.84,621.56 115.84,620.84 114.84,620.13 113.83,619.43 112.83,618.73 111.83,618.04 110.83,617.35 109.83,616.66 108.83,615.98 107.83,615.31 106.82,614.64 105.82,613.98 104.82,613.32 103.82,612.67 102.82,612.03 101.82,611.39 100.82,610.75 99.81,610.13 98.81,609.51 97.81,608.89 96.81,608.28 95.81,607.68 94.81,607.09 93.81,606.50 92.80,605.92 91.80,605.34 90.80,604.78 89.80,604.22" fill="rgba(178,178,178,0.46)"/>
<polyline points="87.60,619.11 88.60,619.82 89.60,620.53 90.61,621.23 91.61,621.93 92.61,622.63 93.61,623.33 94.61,624.02 95.61,624.72 96.62,625.41 97.62,626.09 98.62,626.78 99.62,627.46 100.62,628.14 101.63,628.82 102.63,629.49 103.63,630.17 104.63,630.84 105.63,631.50 106.63,632.17 107.64,632.83 108.64,633.49 109.64,634.15 110.64,634.81 111.64,635.46 112.65,636.11 113.65,636.76 114.65,637.41 115.65,638.05 116.65,638.70 117.65,639.34 118.66,639.97 119.66,640.61 120.66,641.24 121.66,641.87 122.66,642.50 123.67,643.12 124.67,643.75 125.67,644.37 126.67,644.99 127.67,645.60 128.67,646.22 129.68,646.83 130.68,647.44 131.68,648.05 132.68,648.65 133.68,649.25 134.69,649.85 135.69,650.45 136.69,651.05 137.69,651.64 138.69,652.23 139.69,652.82 140.70,653.41 141.70,653.99 142.70,654.58 143.70,655.16 144.70,655.73 145.71,656.31 146.71,656.88 147.71,657.45 148.71,658.02 149.71,658.59 150.71,659.15 151.72,659.71 152.72,660.27 153.72,660.83 154.72,661.39 155.72,661.94 156.73,662.49 157.73,663.04 158.73,663.59 159.73,664.13 160.73,664.67 161.73,665.21 162.74,665.75 163.74,666.29 164.74,666.82 165.74,667.35 166.74,667.88 167.75,668.41 168.75,668.93 169.75,669.45 170.75,669.97 171.75,670.49 172.75,671.01 173.76,671.52 174.76,672.03 175.76,672.54 176.76,673.05 177.76,673.55 178.77,674.06 179.77,674.56 180.77,675.06 181.77,675.55 182.77,676.05 183.77,676.54 184.78,677.03 185.78,677.52 186.78,678.01 187.78,678.49 188.78,678.97 189.79,679.45 190.79,679.93 191.79,680.40 192.79,680.88 193.79,681.35 194.79,681.82 195.80,682.28 196.80,682.75 197.80,683.21 198.80,683.67 199.80,684.13 200.81,684.58 201.81,685.04 202.81,685.49 203.81,685.93 204.81,686.38 205.81,686.82 206.82,687.26 207.82,687.70 208.82,688.13 209.82,688.56 210.82,688.99 211.83,689.42 212.83,689.84 213.83,690.26 214.83,690.68 215.83,691.10 216.83,691.51 217.84,691.92 218.84,692.33 219.84,692.73 220.84,693.13 221.84,693.53 222.85,693.92 223.85,694.31 224.85,694.70 225.85,695.08 226.85,695.47 227.85,695.84 228.86,696.22 229.86,696.59 230.86,696.96 231.86,697.32 232.86,697.68 233.87,698.04 234.87,698.40 235.87,698.75 236.87,699.10 237.87,699.44 238.87,699.78 239.88,700.12 240.88,700.45 241.88,700.78 242.88,701.10 243.88,701.43 244.89,701.74 245.89,702.06 246.89,702.37 247.89,702.67 248.89,702.98 249.89,703.28 250.90,703.57 251.90,703.86 252.90,704.15 253.90,704.43 254.90,704.71 255.91,704.98 256.91,705.25 257.91,705.52 258.91,705.78 259.91,706.04 260.91,706.29 261.92,706.54 262.92,706.79 263.92,707.03 264.92,707.26 265.92,707.49 266.93,707.72 267.93,707.94 268.93,708.16 269.93,708.37 270.93,708.58 271.93,708.78 272.94,708.98 273.94,709.18 274.94,709.37 275.94,709.55 276.94,709.73 277.95,709.91 278.95,710.08 279.95,710.25 280.95,710.41 281.95,710.56 282.95,710.71 283.96,710.86 284.96,711.00 285.96,711.14 286.96,711.27 287.96,711.39 288.97,711.51 289.97,711.63 290.97,711.74 291.97,711.84 292.97,711.94 293.97,712.04 294.98,712.13 295.98,712.21 296.98,712.29 297.98,712.37 298.98,712.44 299.99,712.51 300.99,712.57 301.99,712.63 302.99,712.69 303.99,712.74 304.99,712.78 306.00,712.83 307.00,712.87 308.00,712.90 309.00,712.94 310.00,712.97 311.01,712.99 312.01,713.02 313.01,713.04 314.01,713.06 315.01,713.07 316.01,713.08 317.02,713.09 318.02,713.10 319.02,713.11 320.02,713.11 321.02,713.11 322.03,713.11 323.03,713.10 324.03,713.10 325.03,713.09 326.03,713.08 327.03,713.07 328.04,713.06 329.04,713.05 330.04,713.03 331.04,713.02 332.04,713.00 333.05,712.98 334.05,712.96 335.05,712.94 336.05,712.92 337.05,712.89 338.05,712.87 339.06,712.84 340.06,712.82 341.06,712.79 342.06,712.76 343.06,712.72 344.07,712.69 345.07,712.65 346.07,712.62 347.07,712.58 348.07,712.54 349.07,712.49 350.08,712.45 351.08,712.40 352.08,712.35 353.08,712.30 354.08,712.25 355.09,712.20 356.09,712.14 357.09,712.08 358.09,712.02 359.09,711.96 360.09,711.90 361.10,711.83 362.10,711.76 363.10,711.69 364.10,711.61 365.10,711.54 366.11,711.46 367.11,711.38 368.11,711.29 369.11,711.21 370.11,711.12 371.11,711.03 372.12,710.93 373.12,710.84 374.12,710.74 375.12,710.64 376.12,710.53 377.13,710.42 378.13,710.31 379.13,710.20 380.13,710.08 381.13,709.96 382.13,709.84 383.14,709.72 384.14,709.59 385.14,709.46 386.14,709.32 387.14,709.19 388.15,709.05 389.15,708.90 390.15,708.75 391.15,708.60 392.15,708.45 393.15,708.29 394.16,708.13 395.16,707.97 396.16,707.80 397.16,707.63 398.16,707.46 399.17,707.28 400.17,707.09 401.17,706.91 402.17,706.72 403.17,706.53 404.17,706.33 405.18,706.13 406.18,705.93 407.18,705.72 408.18,705.51 409.18,705.29 410.19,705.07 411.19,704.85 412.19,704.62 413.19,704.39 414.19,704.15 415.19,703.91 416.20,703.66 417.20,703.42 418.20,703.16 419.20,702.90 420.20,702.64 421.21,702.38 422.21,702.11 423.21,701.83 424.21,701.55 425.21,701.27 426.21,700.98 427.22,700.69 428.22,700.39 429.22,700.09 430.22,699.78 431.22,699.47 432.23,699.15 433.23,698.83 434.23,698.50 435.23,698.17 436.23,697.84 437.23,697.49 438.24,697.15 439.24,696.80 440.24,696.44 441.24,696.08 442.24,695.71 443.25,695.34 444.25,694.97 445.25,694.58 446.25,694.19 447.25,693.80 448.25,693.40 449.26,692.99 450.26,692.58 451.26,692.16 452.26,691.74 453.26,691.30 454.27,690.86 455.27,690.42 456.27,689.97 457.27,689.51 458.27,689.04 459.27,688.56 460.28,688.08 461.28,687.59 462.28,687.09 463.28,686.59 464.28,686.08 465.29,685.55 466.29,685.02 467.29,684.49 468.29,683.94 469.29,683.38 470.29,682.82 471.30,682.25 472.30,681.66 473.30,681.07 474.30,680.47 475.30,679.86 476.31,679.24 477.31,678.62 478.31,677.98 479.31,677.33 480.31,676.67 481.31,676.00 482.32,675.32 483.32,674.63 484.32,673.93 485.32,673.23 486.32,672.51 487.33,671.78 488.33,671.05 489.33,670.30 490.33,669.54 491.33,668.78 492.33,668.01 493.34,667.22 494.34,666.43 495.34,665.63 496.34,664.82 497.34,664.01 498.35,663.18 499.35,662.35 500.35,661.50 501.35,660.65 502.35,659.79 503.35,658.93 504.36,658.05 505.36,657.17 506.36,656.28 507.36,655.38 508.36,654.47 509.37,653.56 510.37,652.64 511.37,651.71 512.37,650.78 513.37,649.84 514.37,648.89 515.38,647.93 516.38,646.97 517.38,646.00 518.38,645.02 519.38,644.04 520.39,643.05 521.39,642.05 522.39,641.05 523.39,640.04 524.39,639.03 525.39,638.01 526.40,636.98 527.40,635.95 528.40,634.91 529.40,633.87 530.40,632.82 531.41,631.77 532.41,630.71 533.41,629.64 534.41,628.57 535.41,627.50 536.41,626.42 537.42,625.33 538.42,624.25 539.42,623.15 540.42,622.05 541.42,620.95 542.43,619.84 543.43,618.73 544.43,617.61 545.43,616.49 546.43,615.37 547.43,614.24 548.44,613.11 549.44,611.97 550.44,610.84 551.44,609.69 552.44,608.55 553.45,607.40 554.45,606.25 555.45,605.09 556.45,603.93 557.45,602.77 558.45,601.61 559.46,600.44 560.46,599.27 561.46,598.10 562.46,596.93 563.46,595.75 564.47,594.57 565.47,593.39 566.47,592.21 567.47,591.02 568.47,589.84 569.47,588.65 570.48,587.46 571.48,586.27 572.48,585.08 573.48,583.88 574.48,582.69 575.49,581.49 576.49,580.30 577.49,579.10 578.49,577.90 579.49,576.70 580.49,575.50 581.50,574.30 582.50,573.10 583.50,571.90" fill="none" stroke="#1b9e77" stroke-width="2.2" stroke-linejoin="round" stroke-linecap="butt"/>
<polyline points="89.80,570.34 90.80,571.48 91.80,572.61 92.80,573.74 93.81,574.86 94.81,575.98 95.81,577.10 96.81,578.21 97.81,579.31 98.81,580.41 99.81,581.51 100.82,582.60 101.82,583.69 102.82,584.77 103.82,585.84 104.82,586.92 105.82,587.98 106.82,589.05 107.83,590.11 108.83,591.16 109.83,592.21 110.83,593.25 111.83,594.29 112.83,595.32 113.83,596.35 114.84,597.38 115.84,598.40 116.84,599.41 117.84,600.42 118.84,601.43 119.84,602.43 120.84,603.42 121.85,604.41 122.85,605.40 123.85,606.38 124.85,607.35 125.85,608.32 126.85,609.29 127.85,610.25 128.86,611.20 129.86,612.15 130.86,613.10 131.86,614.04 132.86,614.97 133.86,615.90 134.86,616.83 135.87,617.75 136.87,618.66 137.87,619.57 138.87,620.47 139.87,621.37 140.87,622.26 141.87,623.15 142.88,624.03 143.88,624.91 144.88,625.78 145.88,626.65 146.88,627.51 147.88,628.36 148.88,629.22 149.89,630.06 150.89,630.90 151.89,631.73 152.89,632.56 153.89,633.39 154.89,634.20 155.89,635.02 156.90,635.82 157.90,636.62 158.90,637.42 159.90,638.21 160.90,638.99 161.90,639.77 162.90,640.55 163.91,641.31 164.91,642.08 165.91,642.83 166.91,643.58 167.91,644.33 168.91,645.07 169.91,645.80 170.92,646.53 171.92,647.25 172.92,647.97 173.92,648.68 174.92,649.38 175.92,650.08 176.92,650.78 177.92,651.46 178.93,652.14 179.93,652.82 180.93,653.49 181.93,654.15 182.93,654.81 183.93,655.46 184.93,656.11 185.94,656.75 186.94,657.38 187.94,658.01 188.94,658.64 189.94,659.25 190.94,659.86 191.94,660.47 192.95,661.06 193.95,661.66 194.95,662.24 195.95,662.82 196.95,663.40 197.95,663.97 198.95,664.53 199.96,665.09 200.96,665.64 201.96,666.18 202.96,666.72 203.96,667.25 204.96,667.78 205.96,668.30 206.97,668.82 207.97,669.33 208.97,669.84 209.97,670.34 210.97,670.83 211.97,671.32 212.97,671.80 213.98,672.28 214.98,672.75 215.98,673.22 216.98,673.68 217.98,674.13 218.98,674.58 219.98,675.03 220.99,675.47 221.99,675.90 222.99,676.33 223.99,676.75 224.99,677.17 225.99,677.58 226.99,677.99 228.00,678.39 229.00,678.79 230.00,679.18 231.00,679.56 232.00,679.94 233.00,680.32 234.00,680.69 235.01,681.06 236.01,681.42 237.01,681.77 238.01,682.12 239.01,682.47 240.01,682.81 241.01,683.14 242.02,683.47 243.02,683.80 244.02,684.12 245.02,684.43 246.02,684.75 247.02,685.05 248.02,685.35 249.03,685.65 250.03,685.94 251.03,686.23 252.03,686.51 253.03,686.79 254.03,687.06 255.03,687.33 256.04,687.59 257.04,687.85 258.04,688.10 259.04,688.35 260.04,688.60 261.04,688.84 262.04,689.07 263.05,689.30 264.05,689.53 265.05,689.75 266.05,689.97 267.05,690.18 268.05,690.39 269.05,690.60 270.06,690.80 271.06,690.99 272.06,691.19 273.06,691.37 274.06,691.56 275.06,691.73 276.06,691.91 277.07,692.08 278.07,692.24 279.07,692.41 280.07,692.56 281.07,692.72 282.07,692.87 283.07,693.01 284.08,693.15 285.08,693.29 286.08,693.43 287.08,693.55 288.08,693.68 289.08,693.80 290.08,693.92 291.09,694.03 292.09,694.14 293.09,694.25 294.09,694.35 295.09,694.45 296.09,694.54 297.09,694.63 298.10,694.72 299.10,694.80 300.10,694.88 301.10,694.95 302.10,695.02 303.10,695.09 304.10,695.15 305.11,695.21 306.11,695.27 307.11,695.32 308.11,695.37 309.11,695.42 310.11,695.46 311.11,695.49 312.12,695.53 313.12,695.56 314.12,695.58 315.12,695.61 316.12,695.62 317.12,695.64 318.12,695.65 319.13,695.66 320.13,695.66 321.13,695.66 322.13,695.66 323.13,695.65 324.13,695.64 325.13,695.63 326.14,695.61 327.14,695.59 328.14,695.57 329.14,695.54 330.14,695.51 331.14,695.47 332.14,695.43 333.15,695.39 334.15,695.34 335.15,695.29 336.15,695.24 337.15,695.19 338.15,695.13 339.15,695.06 340.15,695.00 341.16,694.93 342.16,694.85 343.16,694.78 344.16,694.70 345.16,694.61 346.16,694.53 347.16,694.44 348.17,694.34 349.17,694.25 350.17,694.14 351.17,694.04 352.17,693.93 353.17,693.82 354.17,693.71 355.18,693.59 356.18,693.47 357.18,693.35 358.18,693.22 359.18,693.09 360.18,692.96 361.18,692.82 362.19,692.68 363.19,692.54 364.19,692.40 365.19,692.25 366.19,692.09 367.19,691.94 368.19,691.78 369.20,691.62 370.20,691.45 371.20,691.28 372.20,691.11 373.20,690.94 374.20,690.76 375.20,690.58 376.21,690.40 377.21,690.21 378.21,690.02 379.21,689.83 380.21,689.63 381.21,689.43 382.21,689.23 383.22,689.03 384.22,688.82 385.22,688.61 386.22,688.39 387.22,688.18 388.22,687.96 389.22,687.73 390.23,687.51 391.23,687.28 392.23,687.05 393.23,686.81 394.23,686.58 395.23,686.34 396.23,686.09 397.24,685.85 398.24,685.60 399.24,685.35 400.24,685.09 401.24,684.84 402.24,684.57 403.24,684.31 404.25,684.05 405.25,683.78 406.25,683.51 407.25,683.23 408.25,682.95 409.25,682.67 410.25,682.39 411.26,682.11 412.26,681.82 413.26,681.53 414.26,681.24 415.26,680.94 416.26,680.64 417.26,680.34 418.27,680.03 419.27,679.73 420.27,679.42 421.27,679.11 422.27,678.79 423.27,678.47 424.27,678.15 425.28,677.83 426.28,677.51 427.28,677.18 428.28,676.85 429.28,676.52 430.28,676.18 431.28,675.84 432.29,675.50 433.29,675.16 434.29,674.81 435.29,674.47 436.29,674.12 437.29,673.76 438.29,673.41 439.30,673.05 440.30,672.69 441.30,672.33 442.30,671.96 443.30,671.59 444.30,671.22 445.30,670.85 446.31,670.48 447.31,670.10 448.31,669.72 449.31,669.34 450.31,668.95 451.31,668.57 452.31,668.18 453.32,667.79 454.32,667.39 455.32,667.00 456.32,666.60 457.32,666.20 458.32,665.80 459.32,665.39 460.33,664.98 461.33,664.58 462.33,664.16 463.33,663.75 464.33,663.33 465.33,662.92 466.33,662.50 467.34,662.07 468.34,661.65 469.34,661.22 470.34,660.79 471.34,660.36 472.34,659.93 473.34,659.49 474.35,659.05 475.35,658.61 476.35,658.17 477.35,657.73 478.35,657.28 479.35,656.83 480.35,656.38 481.36,655.93 482.36,655.48 483.36,655.02 484.36,654.56 485.36,654.10 486.36,653.64 487.36,653.17 488.37,652.71 489.37,652.24 490.37,651.77 491.37,651.29 492.37,650.82 493.37,650.34 494.37,649.86 495.38,649.38 496.38,648.90 497.38,648.41 498.38,647.92 499.38,647.43 500.38,646.94 501.38,646.44 502.38,645.95 503.39,645.45 504.39,644.94 505.39,644.44 506.39,643.93 507.39,643.43 508.39,642.92 509.39,642.40 510.40,641.89 511.40,641.37 512.40,640.85 513.40,640.33 514.40,639.80 515.40,639.28 516.40,638.75 517.41,638.21 518.41,637.68 519.41,637.14 520.41,636.61 521.41,636.06 522.41,635.52 523.41,634.98 524.42,634.43 525.42,633.88 526.42,633.32 527.42,632.77 528.42,632.21 529.42,631.65 530.42,631.09 531.43,630.52 532.43,629.95 533.43,629.38 534.43,628.81 535.43,628.24 536.43,627.66 537.43,627.08 538.44,626.49 539.44,625.91 540.44,625.32 541.44,624.73 542.44,624.14 543.44,623.54 544.44,622.94 545.45,622.34 546.45,621.74 547.45,621.13 548.45,620.53 549.45,619.91 550.45,619.30 551.45,618.68 552.46,618.07 553.46,617.44 554.46,616.82 555.46,616.19 556.46,615.56 557.46,614.93 558.46,614.30 559.47,613.66 560.47,613.02 561.47,612.37 562.47,611.73 563.47,611.08 564.47,610.43 565.47,609.77 566.48,609.12 567.48,608.46 568.48,607.80 569.48,607.13 570.48,606.46 571.48,605.79 572.48,605.12 573.49,604.44 574.49,603.76 575.49,603.08 576.49,602.40 577.49,601.71 578.49,601.02 579.49,600.33 580.50,599.63 581.50,598.93 582.50,598.23 583.50,597.52" fill="none" stroke="#d95f02" stroke-width="2.2" stroke-linejoin="round" stroke-linecap="butt"/>
<line x1="63" y1="526.5" x2="63" y2="744" stroke="#2a2a2a" stroke-width="1.3"/>
<line x1="62.35" y1="743.7" x2="608.1" y2="743.7" stroke="#2a2a2a" stroke-width="1.3"/>
<line x1="59.7" y1="581" x2="63" y2="581" stroke="#2a2a2a" stroke-width="1.1"/>
<text transform="translate(56.6,586.4) scale(0.94,1)" font-size="15.9" text-anchor="end" fill="#1a1a1a" >1200</text>
<line x1="59.7" y1="648.7" x2="63" y2="648.7" stroke="#2a2a2a" stroke-width="1.1"/>
<text transform="translate(56.6,654.1) scale(0.94,1)" font-size="15.9" text-anchor="end" fill="#1a1a1a" >1000</text>
<line x1="59.7" y1="716.3" x2="63" y2="716.3" stroke="#2a2a2a" stroke-width="1.1"/>
<text transform="translate(56.6,721.6999999999999) scale(0.94,1)" font-size="15.9" text-anchor="end" fill="#1a1a1a" >800</text>
<line x1="105.5" y1="743.7" x2="105.5" y2="746.7" stroke="#2a2a2a" stroke-width="1.1"/>
<text transform="translate(105.5,761.4) scale(0.96,1)" font-size="15.9" text-anchor="middle" fill="#1a1a1a" >1</text>
<line x1="197.6" y1="743.7" x2="197.6" y2="746.7" stroke="#2a2a2a" stroke-width="1.1"/>
<text transform="translate(197.6,761.4) scale(0.96,1)" font-size="15.9" text-anchor="middle" fill="#1a1a1a" >2</text>
<line x1="289.7" y1="743.7" x2="289.7" y2="746.7" stroke="#2a2a2a" stroke-width="1.1"/>
<text transform="translate(289.7,761.4) scale(0.96,1)" font-size="15.9" text-anchor="middle" fill="#1a1a1a" >3</text>
<line x1="381.79999999999995" y1="743.7" x2="381.79999999999995" y2="746.7" stroke="#2a2a2a" stroke-width="1.1"/>
<text transform="translate(381.79999999999995,761.4) scale(0.96,1)" font-size="15.9" text-anchor="middle" fill="#1a1a1a" >4</text>
<line x1="473.9" y1="743.7" x2="473.9" y2="746.7" stroke="#2a2a2a" stroke-width="1.1"/>
<text transform="translate(473.9,761.4) scale(0.96,1)" font-size="15.9" text-anchor="middle" fill="#1a1a1a" >5</text>
<line x1="566.0" y1="743.7" x2="566.0" y2="746.7" stroke="#2a2a2a" stroke-width="1.1"/>
<text transform="translate(566.0,761.4) scale(0.96,1)" font-size="15.9" text-anchor="middle" fill="#1a1a1a" >6</text>
<text transform="translate(302.9,772.5) scale(0.98,1)" font-size="18" text-anchor="start" fill="#1a1a1a" >Location</text>
<text x="0" y="0" font-size="16.9" text-anchor="middle" fill="#1a1a1a" transform="translate(17.6,629.7) rotate(-90)">Reaction Time (ms)</text>
<text x="610.2" y="600" font-size="15.2" text-anchor="start" fill="#1a1a1a" >Time</text>
<rect x="595.4" y="609.2" width="14.2" height="29.4" fill="rgba(178,178,178,0.46)"/>
<line x1="596.6" y1="616.9" x2="608.6" y2="616.9" stroke="#1b9e77" stroke-width="2"/>
<line x1="596.6" y1="631.8" x2="608.6" y2="631.8" stroke="#d95f02" stroke-width="2"/>
<text x="614.8" y="621.1" font-size="15.1" text-anchor="start" fill="#1a1a1a" >1<tspan font-size="11" dy="-4">st</tspan><tspan dy="4"> Half</tspan></text>
<text x="614.8" y="638" font-size="15.1" text-anchor="start" fill="#1a1a1a" >2<tspan font-size="11" dy="-4">nd</tspan><tspan dy="4"> Half</tspan></text>
<polygon points="100.5,767 112.2,767 112.2,779.1 117.7,779.1 106.5,793.1 95.3,779.1 100.5,779.1" fill="#c0c0c0"/>
<polygon points="560.9,767.2 573,767.2 573,779.8 578.2,779.8 566.9,793.4 555.7,779.8 560.9,779.8" fill="#c0c0c0"/>
<line x1="102.2" y1="799" x2="102.2" y2="1008.3" stroke="#2a2a2a" stroke-width="1.3"/>
<text x="98.9" y="805.4" font-size="15.5" text-anchor="end" fill="#1a1a1a" >2000-</text>
<text x="98.9" y="870.5" font-size="15.5" text-anchor="end" fill="#1a1a1a" >1500-</text>
<text x="98.9" y="935.6" font-size="15.5" text-anchor="end" fill="#1a1a1a" >1000-</text>
<text x="98.9" y="1001.6" font-size="15.5" text-anchor="end" fill="#1a1a1a" >500-</text>
<text x="0" y="0" font-size="17.3" text-anchor="middle" fill="#1a1a1a" transform="translate(53.4,899.3) rotate(-90)">Reaction Time (ms)</text>
<polygon points="189.80,829.00 189.80,829.00 189.87,829.50 189.94,830.00 190.01,830.51 190.08,831.01 190.15,831.51 190.22,832.01 190.29,832.51 190.37,833.01 190.44,833.52 190.52,834.02 190.60,834.52 190.68,835.02 190.76,835.52 190.84,836.03 190.93,836.53 191.02,837.03 191.11,837.53 191.21,838.03 191.30,838.54 191.41,839.04 191.51,839.54 191.62,840.04 191.73,840.54 191.85,841.04 191.97,841.55 192.10,842.05 192.23,842.55 192.37,843.05 192.51,843.55 192.66,844.06 192.81,844.56 192.97,845.06 193.14,845.56 193.32,846.06 193.50,846.56 193.68,847.07 193.88,847.57 194.08,848.07 194.28,848.57 194.50,849.07 194.71,849.58 194.93,850.08 195.15,850.58 195.38,851.08 195.61,851.58 195.84,852.09 196.07,852.59 196.31,853.09 196.54,853.59 196.78,854.09 197.01,854.59 197.25,855.10 197.49,855.60 197.73,856.10 197.97,856.60 198.21,857.10 198.45,857.61 198.70,858.11 198.94,858.61 199.19,859.11 199.44,859.61 199.69,860.11 199.94,860.62 200.19,861.12 200.45,861.62 200.70,862.12 200.96,862.62 201.23,863.13 201.49,863.63 201.76,864.13 202.03,864.63 202.30,865.13 202.57,865.64 202.85,866.14 203.13,866.64 203.42,867.14 203.70,867.64 203.99,868.14 204.28,868.65 204.57,869.15 204.86,869.65 205.16,870.15 205.45,870.65 205.75,871.16 206.04,871.66 206.34,872.16 206.64,872.66 206.94,873.16 207.24,873.66 207.54,874.17 207.83,874.67 208.13,875.17 208.43,875.67 208.73,876.17 209.02,876.68 209.32,877.18 209.61,877.68 209.90,878.18 210.20,878.68 210.49,879.19 210.78,879.69 211.08,880.19 211.37,880.69 211.67,881.19 211.97,881.69 212.27,882.20 212.57,882.70 212.87,883.20 213.17,883.70 213.48,884.20 213.79,884.71 214.10,885.21 214.42,885.71 214.73,886.21 215.06,886.71 215.38,887.21 215.71,887.72 216.05,888.22 216.38,888.72 216.73,889.22 217.07,889.72 217.43,890.23 217.78,890.73 218.14,891.23 218.51,891.73 218.88,892.23 219.26,892.74 219.65,893.24 220.04,893.74 220.43,894.24 220.83,894.74 221.24,895.24 221.65,895.75 222.07,896.25 222.50,896.75 222.94,897.25 223.38,897.75 223.82,898.26 224.28,898.76 224.74,899.26 225.21,899.76 225.69,900.26 226.18,900.76 226.68,901.27 227.19,901.77 227.72,902.27 228.27,902.77 228.83,903.27 229.41,903.78 230.00,904.28 230.62,904.78 231.27,905.28 231.93,905.78 232.62,906.29 233.33,906.79 234.07,907.29 234.82,907.79 235.60,908.29 236.39,908.79 237.19,909.30 238.00,909.80 238.81,910.30 239.64,910.80 240.46,911.30 241.28,911.81 242.10,912.31 242.91,912.81 243.72,913.31 244.51,913.81 245.29,914.31 246.05,914.82 246.80,915.32 247.54,915.82 248.26,916.32 248.97,916.82 249.67,917.33 250.36,917.83 251.03,918.33 251.69,918.83 252.35,919.33 252.99,919.84 253.62,920.34 254.24,920.84 254.86,921.34 255.45,921.84 256.03,922.34 256.60,922.85 257.14,923.35 257.66,923.85 258.16,924.35 258.63,924.85 259.07,925.36 259.49,925.86 259.86,926.36 260.21,926.86 260.51,927.36 260.78,927.86 261.02,928.37 261.23,928.87 261.41,929.37 261.56,929.87 261.69,930.37 261.79,930.88 261.87,931.38 261.93,931.88 261.97,932.38 261.99,932.88 262.00,933.39 262.00,933.89 261.97,934.39 261.94,934.89 261.88,935.39 261.81,935.89 261.72,936.40 261.61,936.90 261.48,937.40 261.33,937.90 261.16,938.40 260.97,938.91 260.75,939.41 260.52,939.91 260.26,940.41 259.98,940.91 259.67,941.41 259.34,941.92 258.98,942.42 258.59,942.92 258.18,943.42 257.73,943.92 257.26,944.43 256.76,944.93 256.23,945.43 255.66,945.93 255.07,946.43 254.44,946.94 253.77,947.44 253.07,947.94 252.34,948.44 251.57,948.94 250.77,949.44 249.93,949.95 249.07,950.45 248.18,950.95 247.27,951.45 246.34,951.95 245.39,952.46 244.43,952.96 243.45,953.46 242.46,953.96 241.47,954.46 240.47,954.96 239.46,955.47 238.46,955.97 237.46,956.47 236.47,956.97 235.47,957.47 234.47,957.98 233.48,958.48 232.49,958.98 231.49,959.48 230.49,959.98 229.49,960.49 228.49,960.99 227.49,961.49 226.48,961.99 225.46,962.49 224.44,962.99 223.41,963.50 222.38,964.00 221.34,964.50 220.30,965.00 219.26,965.50 218.22,966.01 217.18,966.51 216.15,967.01 215.13,967.51 214.11,968.01 213.12,968.51 212.13,969.02 211.16,969.52 210.21,970.02 209.29,970.52 208.39,971.02 207.51,971.53 206.66,972.03 205.84,972.53 205.04,973.03 204.27,973.53 203.53,974.04 202.82,974.54 202.13,975.04 201.46,975.54 200.83,976.04 200.22,976.54 199.63,977.05 199.08,977.55 198.54,978.05 198.04,978.55 197.56,979.05 197.10,979.56 196.67,980.06 196.26,980.56 195.87,981.06 195.50,981.56 195.15,982.06 194.81,982.57 194.49,983.07 194.18,983.57 193.89,984.07 193.61,984.57 193.33,985.08 193.07,985.58 192.81,986.08 192.56,986.58 192.31,987.08 192.07,987.59 191.83,988.09 191.59,988.59 191.35,989.09 191.12,989.59 190.89,990.09 190.66,990.60 190.43,991.10 190.20,991.60 189.80,991.60" fill="#1b9e77" fill-opacity="0.5"/>
<polygon points="189.80,843.40 190.80,843.40 191.23,843.90 191.65,844.40 192.05,844.91 192.43,845.41 192.79,845.91 193.12,846.41 193.44,846.91 193.74,847.42 194.03,847.92 194.32,848.42 194.59,848.92 194.87,849.43 195.14,849.93 195.42,850.43 195.70,850.93 196.00,851.43 196.30,851.94 196.63,852.44 196.96,852.94 197.32,853.44 197.69,853.94 198.09,854.45 198.50,854.95 198.95,855.45 199.42,855.95 199.92,856.46 200.44,856.96 201.01,857.46 201.60,857.96 202.22,858.46 202.87,858.97 203.54,859.47 204.24,859.97 204.96,860.47 205.70,860.98 206.46,861.48 207.23,861.98 208.02,862.48 208.81,862.98 209.62,863.49 210.44,863.99 211.26,864.49 212.09,864.99 212.93,865.49 213.77,866.00 214.61,866.50 215.45,867.00 216.29,867.50 217.13,868.00 217.96,868.51 218.79,869.01 219.62,869.51 220.44,870.01 221.25,870.52 222.05,871.02 222.85,871.52 223.64,872.02 224.44,872.52 225.24,873.03 226.04,873.53 226.85,874.03 227.68,874.53 228.51,875.03 229.37,875.54 230.24,876.04 231.13,876.54 232.04,877.04 232.99,877.55 233.96,878.05 234.95,878.55 235.96,879.05 236.99,879.55 238.02,880.06 239.06,880.56 240.09,881.06 241.11,881.56 242.13,882.06 243.12,882.57 244.09,883.07 245.03,883.57 245.94,884.07 246.82,884.58 247.66,885.08 248.46,885.58 249.22,886.08 249.95,886.58 250.63,887.09 251.27,887.59 251.87,888.09 252.42,888.59 252.93,889.10 253.38,889.60 253.80,890.10 254.16,890.60 254.48,891.10 254.76,891.61 255.01,892.11 255.22,892.61 255.39,893.11 255.54,893.61 255.66,894.12 255.76,894.62 255.83,895.12 255.88,895.62 255.90,896.12 255.90,896.63 255.88,897.13 255.82,897.63 255.74,898.13 255.63,898.64 255.49,899.14 255.33,899.64 255.13,900.14 254.90,900.64 254.64,901.15 254.35,901.65 254.03,902.15 253.69,902.65 253.31,903.15 252.92,903.66 252.51,904.16 252.09,904.66 251.66,905.16 251.22,905.67 250.78,906.17 250.34,906.67 249.90,907.17 249.46,907.67 249.04,908.18 248.62,908.68 248.21,909.18 247.82,909.68 247.43,910.18 247.05,910.69 246.68,911.19 246.32,911.69 245.97,912.19 245.63,912.70 245.30,913.20 244.98,913.70 244.68,914.20 244.39,914.70 244.10,915.21 243.83,915.71 243.57,916.21 243.32,916.71 243.09,917.22 242.86,917.72 242.64,918.22 242.43,918.72 242.23,919.22 242.03,919.73 241.85,920.23 241.67,920.73 241.51,921.23 241.35,921.73 241.19,922.24 241.05,922.74 240.91,923.24 240.77,923.74 240.64,924.25 240.52,924.75 240.40,925.25 240.28,925.75 240.17,926.25 240.05,926.76 239.94,927.26 239.83,927.76 239.71,928.26 239.59,928.76 239.48,929.27 239.35,929.77 239.23,930.27 239.10,930.77 238.96,931.27 238.81,931.78 238.66,932.28 238.51,932.78 238.34,933.28 238.16,933.79 237.97,934.29 237.78,934.79 237.57,935.29 237.34,935.79 237.11,936.30 236.86,936.80 236.60,937.30 236.33,937.80 236.04,938.30 235.74,938.81 235.42,939.31 235.08,939.81 234.72,940.31 234.35,940.82 233.96,941.32 233.55,941.82 233.12,942.32 232.67,942.82 232.21,943.33 231.72,943.83 231.22,944.33 230.70,944.83 230.16,945.34 229.60,945.84 229.03,946.34 228.45,946.84 227.85,947.34 227.23,947.85 226.60,948.35 225.96,948.85 225.30,949.35 224.63,949.85 223.95,950.36 223.26,950.86 222.55,951.36 221.84,951.86 221.12,952.37 220.39,952.87 219.65,953.37 218.92,953.87 218.18,954.37 217.43,954.88 216.69,955.38 215.95,955.88 215.21,956.38 214.48,956.88 213.76,957.39 213.04,957.89 212.33,958.39 211.63,958.89 210.94,959.39 210.27,959.90 209.61,960.40 208.97,960.90 208.33,961.40 207.72,961.91 207.11,962.41 206.51,962.91 205.93,963.41 205.36,963.91 204.79,964.42 204.24,964.92 203.69,965.42 203.15,965.92 202.62,966.42 202.10,966.93 201.58,967.43 201.07,967.93 200.57,968.43 200.07,968.94 199.57,969.44 199.08,969.94 198.60,970.44 198.12,970.94 197.66,971.45 197.21,971.95 196.76,972.45 196.34,972.95 195.92,973.45 195.52,973.96 195.14,974.46 194.78,974.96 194.43,975.46 194.11,975.97 193.80,976.47 193.52,976.97 193.25,977.47 193.00,977.97 192.76,978.48 192.52,978.98 192.29,979.48 192.06,979.98 191.83,980.49 191.60,980.99 191.35,981.49 191.09,981.99 190.82,982.49 190.53,983.00 190.22,983.50 189.90,984.00 189.80,984.00" fill="#d95f02" fill-opacity="0.5"/>
<line x1="144.8" y1="881.2" x2="144.8" y2="914.3" stroke="#1a1a1a" stroke-width="1.4"/>
<line x1="144.8" y1="945.3" x2="144.8" y2="957.1" stroke="#1a1a1a" stroke-width="1.4"/>
<rect x="133.7" y="914.3" width="22.0" height="31.0" fill="#1b9e77" fill-opacity="0.5" stroke="#1a1a1a" stroke-width="1.4"/>
<line x1="133.7" y1="929.6" x2="155.7" y2="929.6" stroke="#1a1a1a" stroke-width="2.8"/>
<line x1="169" y1="879" x2="169" y2="891.5" stroke="#1a1a1a" stroke-width="1.4"/>
<line x1="169" y1="930.4" x2="169" y2="948.6" stroke="#1a1a1a" stroke-width="1.4"/>
<rect x="158.5" y="891.5" width="21.900000000000006" height="38.89999999999998" fill="#d95f02" fill-opacity="0.5" stroke="#1a1a1a" stroke-width="1.4"/>
<line x1="158.5" y1="902.9" x2="180.4" y2="902.9" stroke="#1a1a1a" stroke-width="2.8"/>
<circle cx="153.8" cy="863.0" r="1.3" fill="#1b9e77"/>
<circle cx="154.6" cy="881.0" r="1.3" fill="#1b9e77"/>
<circle cx="149.8" cy="888.0" r="1.3" fill="#1b9e77"/>
<circle cx="149.8" cy="897.0" r="1.3" fill="#1b9e77"/>
<circle cx="133.2" cy="913.0" r="1.3" fill="#1b9e77"/>
<circle cx="156.0" cy="912.4" r="1.3" fill="#1b9e77"/>
<circle cx="137.0" cy="919.0" r="1.3" fill="#1b9e77"/>
<circle cx="150.0" cy="920.9" r="1.3" fill="#1b9e77"/>
<circle cx="144.6" cy="923.0" r="1.3" fill="#1b9e77"/>
<circle cx="156.5" cy="925.0" r="1.3" fill="#1b9e77"/>
<circle cx="148.7" cy="927.6" r="1.3" fill="#1b9e77"/>
<circle cx="150.5" cy="932.3" r="1.3" fill="#1b9e77"/>
<circle cx="134.6" cy="936.6" r="1.3" fill="#1b9e77"/>
<circle cx="148.4" cy="942.6" r="1.3" fill="#1b9e77"/>
<circle cx="142.9" cy="947.0" r="1.3" fill="#1b9e77"/>
<circle cx="151.1" cy="946.6" r="1.3" fill="#1b9e77"/>
<circle cx="139.5" cy="952.9" r="1.3" fill="#1b9e77"/>
<circle cx="137.5" cy="957.1" r="1.3" fill="#1b9e77"/>
<circle cx="136.4" cy="958.0" r="1.3" fill="#1b9e77"/>
<circle cx="144.3" cy="957.1" r="1.3" fill="#1b9e77"/>
<circle cx="166.5" cy="878.5" r="1.3" fill="#d95f02"/>
<circle cx="163.3" cy="883.2" r="1.3" fill="#d95f02"/>
<circle cx="173.9" cy="882.8" r="1.3" fill="#d95f02"/>
<circle cx="177.4" cy="888.8" r="1.3" fill="#d95f02"/>
<circle cx="165.4" cy="894.2" r="1.3" fill="#d95f02"/>
<circle cx="174.5" cy="893.2" r="1.3" fill="#d95f02"/>
<circle cx="166.3" cy="904.6" r="1.3" fill="#d95f02"/>
<circle cx="162.7" cy="919.2" r="1.3" fill="#d95f02"/>
<circle cx="165.5" cy="925.8" r="1.3" fill="#d95f02"/>
<circle cx="157.1" cy="939.9" r="1.3" fill="#d95f02"/>
<circle cx="168.3" cy="938.0" r="1.3" fill="#d95f02"/>
<circle cx="161.2" cy="944.6" r="1.3" fill="#d95f02"/>
<circle cx="158.9" cy="947.2" r="1.3" fill="#d95f02"/>
<circle cx="167.1" cy="948.8" r="1.3" fill="#d95f02"/>
<polygon points="468.10,813.90 468.10,813.90 468.19,814.40 468.29,814.90 468.38,815.40 468.47,815.90 468.57,816.40 468.66,816.91 468.76,817.41 468.86,817.91 468.96,818.41 469.06,818.91 469.16,819.41 469.27,819.91 469.38,820.41 469.49,820.91 469.60,821.41 469.71,821.91 469.83,822.42 469.95,822.92 470.07,823.42 470.20,823.92 470.33,824.42 470.47,824.92 470.61,825.42 470.75,825.92 470.90,826.42 471.05,826.92 471.20,827.43 471.36,827.93 471.52,828.43 471.68,828.93 471.85,829.43 472.02,829.93 472.19,830.43 472.36,830.93 472.54,831.43 472.72,831.93 472.90,832.43 473.08,832.94 473.26,833.44 473.44,833.94 473.63,834.44 473.81,834.94 474.00,835.44 474.18,835.94 474.37,836.44 474.55,836.94 474.74,837.44 474.92,837.94 475.11,838.45 475.30,838.95 475.48,839.45 475.67,839.95 475.86,840.45 476.04,840.95 476.23,841.45 476.42,841.95 476.61,842.45 476.81,842.95 477.00,843.45 477.20,843.96 477.39,844.46 477.59,844.96 477.79,845.46 478.00,845.96 478.20,846.46 478.41,846.96 478.62,847.46 478.83,847.96 479.05,848.46 479.26,848.97 479.48,849.47 479.71,849.97 479.94,850.47 480.16,850.97 480.39,851.47 480.63,851.97 480.86,852.47 481.09,852.97 481.32,853.47 481.55,853.97 481.79,854.48 482.01,854.98 482.24,855.48 482.46,855.98 482.69,856.48 482.90,856.98 483.12,857.48 483.33,857.98 483.53,858.48 483.73,858.98 483.92,859.48 484.11,859.99 484.28,860.49 484.46,860.99 484.63,861.49 484.79,861.99 484.96,862.49 485.12,862.99 485.28,863.49 485.43,863.99 485.59,864.49 485.75,865.00 485.91,865.50 486.07,866.00 486.24,866.50 486.41,867.00 486.58,867.50 486.76,868.00 486.94,868.50 487.14,869.00 487.34,869.50 487.54,870.00 487.76,870.51 487.99,871.01 488.22,871.51 488.47,872.01 488.72,872.51 488.99,873.01 489.27,873.51 489.55,874.01 489.85,874.51 490.16,875.01 490.47,875.51 490.80,876.02 491.14,876.52 491.50,877.02 491.86,877.52 492.23,878.02 492.62,878.52 493.02,879.02 493.43,879.52 493.86,880.02 494.30,880.52 494.75,881.02 495.21,881.53 495.69,882.03 496.18,882.53 496.68,883.03 497.19,883.53 497.71,884.03 498.25,884.53 498.79,885.03 499.35,885.53 499.91,886.03 500.48,886.54 501.06,887.04 501.65,887.54 502.24,888.04 502.84,888.54 503.45,889.04 504.06,889.54 504.68,890.04 505.30,890.54 505.93,891.04 506.56,891.54 507.20,892.05 507.85,892.55 508.50,893.05 509.17,893.55 509.85,894.05 510.53,894.55 511.23,895.05 511.95,895.55 512.67,896.05 513.42,896.55 514.18,897.05 514.96,897.56 515.75,898.06 516.56,898.56 517.39,899.06 518.24,899.56 519.09,900.06 519.95,900.56 520.82,901.06 521.69,901.56 522.57,902.06 523.44,902.56 524.31,903.07 525.17,903.57 526.03,904.07 526.87,904.57 527.70,905.07 528.52,905.57 529.32,906.07 530.10,906.57 530.85,907.07 531.58,907.57 532.28,908.08 532.96,908.58 533.60,909.08 534.20,909.58 534.77,910.08 535.31,910.58 535.82,911.08 536.29,911.58 536.73,912.08 537.15,912.58 537.53,913.08 537.88,913.59 538.20,914.09 538.50,914.59 538.77,915.09 539.01,915.59 539.23,916.09 539.42,916.59 539.58,917.09 539.72,917.59 539.84,918.09 539.94,918.59 540.01,919.10 540.06,919.60 540.08,920.10 540.08,920.60 540.05,921.10 540.00,921.60 539.93,922.10 539.83,922.60 539.70,923.10 539.55,923.60 539.38,924.10 539.17,924.61 538.94,925.11 538.68,925.61 538.40,926.11 538.08,926.61 537.73,927.11 537.34,927.61 536.92,928.11 536.47,928.61 535.98,929.11 535.45,929.62 534.89,930.12 534.28,930.62 533.63,931.12 532.95,931.62 532.23,932.12 531.49,932.62 530.72,933.12 529.94,933.62 529.14,934.12 528.34,934.62 527.53,935.13 526.72,935.63 525.91,936.13 525.12,936.63 524.32,937.13 523.53,937.63 522.74,938.13 521.95,938.63 521.16,939.13 520.36,939.63 519.56,940.13 518.76,940.64 517.96,941.14 517.15,941.64 516.33,942.14 515.51,942.64 514.69,943.14 513.86,943.64 513.03,944.14 512.21,944.64 511.38,945.14 510.55,945.65 509.73,946.15 508.91,946.65 508.09,947.15 507.27,947.65 506.47,948.15 505.66,948.65 504.87,949.15 504.08,949.65 503.30,950.15 502.53,950.65 501.77,951.16 501.01,951.66 500.27,952.16 499.54,952.66 498.82,953.16 498.10,953.66 497.39,954.16 496.68,954.66 495.98,955.16 495.29,955.66 494.60,956.16 493.91,956.67 493.22,957.17 492.54,957.67 491.85,958.17 491.17,958.67 490.48,959.17 489.80,959.67 489.11,960.17 488.42,960.67 487.72,961.17 487.02,961.67 486.32,962.18 485.61,962.68 484.89,963.18 484.17,963.68 483.45,964.18 482.72,964.68 481.99,965.18 481.26,965.68 480.53,966.18 479.80,966.68 479.08,967.19 478.35,967.69 477.63,968.19 476.92,968.69 476.21,969.19 475.50,969.69 474.81,970.19 474.12,970.69 473.44,971.19 472.78,971.69 472.12,972.19 471.47,972.70 470.83,973.20 470.19,973.70 469.56,974.20 468.93,974.70 468.30,975.20 468.10,975.20" fill="#1b9e77" fill-opacity="0.5"/>
<polygon points="468.10,826.00 469.20,826.00 469.25,826.50 469.31,827.01 469.36,827.51 469.42,828.01 469.48,828.51 469.55,829.02 469.62,829.52 469.69,830.02 469.77,830.53 469.85,831.03 469.94,831.53 470.04,832.03 470.15,832.54 470.27,833.04 470.39,833.54 470.53,834.04 470.67,834.55 470.83,835.05 471.00,835.55 471.18,836.06 471.36,836.56 471.56,837.06 471.76,837.56 471.97,838.07 472.19,838.57 472.42,839.07 472.65,839.58 472.88,840.08 473.12,840.58 473.37,841.08 473.61,841.59 473.87,842.09 474.12,842.59 474.37,843.10 474.63,843.60 474.89,844.10 475.14,844.60 475.40,845.11 475.65,845.61 475.91,846.11 476.16,846.61 476.41,847.12 476.66,847.62 476.90,848.12 477.15,848.63 477.39,849.13 477.63,849.63 477.87,850.13 478.11,850.64 478.35,851.14 478.58,851.64 478.81,852.15 479.05,852.65 479.27,853.15 479.50,853.65 479.73,854.16 479.95,854.66 480.17,855.16 480.39,855.66 480.61,856.17 480.83,856.67 481.04,857.17 481.26,857.68 481.47,858.18 481.68,858.68 481.89,859.18 482.09,859.69 482.30,860.19 482.50,860.69 482.71,861.20 482.91,861.70 483.11,862.20 483.31,862.70 483.52,863.21 483.72,863.71 483.93,864.21 484.13,864.72 484.34,865.22 484.56,865.72 484.77,866.22 484.99,866.73 485.22,867.23 485.45,867.73 485.68,868.23 485.92,868.74 486.17,869.24 486.42,869.74 486.68,870.25 486.94,870.75 487.22,871.25 487.50,871.75 487.79,872.26 488.08,872.76 488.39,873.26 488.70,873.77 489.02,874.27 489.35,874.77 489.69,875.27 490.04,875.78 490.41,876.28 490.78,876.78 491.16,877.29 491.55,877.79 491.95,878.29 492.37,878.79 492.79,879.30 493.23,879.80 493.68,880.30 494.14,880.80 494.62,881.31 495.11,881.81 495.60,882.31 496.11,882.82 496.63,883.32 497.16,883.82 497.70,884.32 498.26,884.83 498.82,885.33 499.39,885.83 499.97,886.34 500.56,886.84 501.16,887.34 501.77,887.84 502.39,888.35 503.01,888.85 503.64,889.35 504.28,889.85 504.93,890.36 505.58,890.86 506.23,891.36 506.88,891.87 507.53,892.37 508.17,892.87 508.81,893.37 509.45,893.88 510.07,894.38 510.68,894.88 511.28,895.39 511.87,895.89 512.44,896.39 513.00,896.89 513.55,897.40 514.08,897.90 514.60,898.40 515.11,898.91 515.62,899.41 516.12,899.91 516.62,900.41 517.12,900.92 517.62,901.42 518.11,901.92 518.61,902.42 519.12,902.93 519.63,903.43 520.15,903.93 520.68,904.44 521.22,904.94 521.77,905.44 522.33,905.94 522.90,906.45 523.48,906.95 524.07,907.45 524.66,907.96 525.25,908.46 525.84,908.96 526.42,909.46 527.00,909.97 527.57,910.47 528.12,910.97 528.67,911.48 529.20,911.98 529.71,912.48 530.20,912.98 530.66,913.49 531.11,913.99 531.52,914.49 531.91,914.99 532.27,915.50 532.60,916.00 532.90,916.50 533.18,917.01 533.42,917.51 533.64,918.01 533.83,918.51 534.00,919.02 534.13,919.52 534.24,920.02 534.32,920.53 534.37,921.03 534.39,921.53 534.38,922.03 534.34,922.54 534.27,923.04 534.17,923.54 534.03,924.05 533.87,924.55 533.67,925.05 533.43,925.55 533.16,926.06 532.86,926.56 532.52,927.06 532.14,927.56 531.73,928.07 531.28,928.57 530.79,929.07 530.28,929.58 529.73,930.08 529.16,930.58 528.58,931.08 527.97,931.59 527.35,932.09 526.72,932.59 526.08,933.10 525.44,933.60 524.80,934.10 524.16,934.60 523.53,935.11 522.91,935.61 522.30,936.11 521.71,936.61 521.12,937.12 520.55,937.62 519.98,938.12 519.42,938.63 518.85,939.13 518.29,939.63 517.73,940.13 517.16,940.64 516.59,941.14 516.01,941.64 515.42,942.15 514.82,942.65 514.21,943.15 513.58,943.65 512.93,944.16 512.27,944.66 511.60,945.16 510.91,945.67 510.21,946.17 509.50,946.67 508.79,947.17 508.06,947.68 507.33,948.18 506.59,948.68 505.84,949.18 505.10,949.69 504.35,950.19 503.60,950.69 502.84,951.20 502.09,951.70 501.35,952.20 500.60,952.70 499.86,953.21 499.12,953.71 498.39,954.21 497.65,954.72 496.92,955.22 496.20,955.72 495.47,956.22 494.75,956.73 494.03,957.23 493.31,957.73 492.59,958.24 491.88,958.74 491.17,959.24 490.45,959.74 489.74,960.25 489.04,960.75 488.33,961.25 487.62,961.75 486.91,962.26 486.21,962.76 485.52,963.26 484.82,963.77 484.14,964.27 483.46,964.77 482.79,965.27 482.13,965.78 481.48,966.28 480.84,966.78 480.21,967.29 479.60,967.79 479.01,968.29 478.43,968.79 477.86,969.30 477.32,969.80 476.79,970.30 476.28,970.80 475.80,971.31 475.33,971.81 474.88,972.31 474.45,972.82 474.04,973.32 473.65,973.82 473.28,974.32 472.92,974.83 472.58,975.33 472.26,975.83 471.95,976.34 471.66,976.84 471.39,977.34 471.13,977.84 470.89,978.35 470.66,978.85 470.45,979.35 470.26,979.86 470.08,980.36 469.91,980.86 469.75,981.36 469.60,981.87 469.47,982.37 469.34,982.87 469.22,983.37 469.11,983.88 469.01,984.38 468.91,984.88 468.82,985.39 468.73,985.89 468.64,986.39 468.56,986.89 468.48,987.40 468.40,987.90 468.10,987.90" fill="#d95f02" fill-opacity="0.5"/>
<line x1="423.2" y1="863.4" x2="423.2" y2="903.3" stroke="#1a1a1a" stroke-width="1.4"/>
<line x1="423.2" y1="931.1" x2="423.2" y2="944.7" stroke="#1a1a1a" stroke-width="1.4"/>
<rect x="412.4" y="903.3" width="22.0" height="27.800000000000068" fill="#1b9e77" fill-opacity="0.5" stroke="#1a1a1a" stroke-width="1.4"/>
<line x1="412.4" y1="915.3" x2="434.4" y2="915.3" stroke="#1a1a1a" stroke-width="2.8"/>
<line x1="447.6" y1="860.3" x2="447.6" y2="905.4" stroke="#1a1a1a" stroke-width="1.4"/>
<line x1="447.6" y1="936.1" x2="447.6" y2="953.6" stroke="#1a1a1a" stroke-width="1.4"/>
<rect x="436.9" y="905.4" width="21.600000000000023" height="30.700000000000045" fill="#d95f02" fill-opacity="0.5" stroke="#1a1a1a" stroke-width="1.4"/>
<line x1="436.9" y1="916.8" x2="458.5" y2="916.8" stroke="#1a1a1a" stroke-width="2.8"/>
<circle cx="433.4" cy="843.9" r="1.3" fill="#1b9e77"/>
<circle cx="413.4" cy="863.2" r="1.3" fill="#1b9e77"/>
<circle cx="415.9" cy="869.4" r="1.3" fill="#1b9e77"/>
<circle cx="414.5" cy="882.2" r="1.3" fill="#1b9e77"/>
<circle cx="413.4" cy="899.3" r="1.3" fill="#1b9e77"/>
<circle cx="429.7" cy="906.4" r="1.3" fill="#1b9e77"/>
<circle cx="426.6" cy="921.1" r="1.3" fill="#1b9e77"/>
<circle cx="417.1" cy="927.4" r="1.3" fill="#1b9e77"/>
<circle cx="434.0" cy="925.8" r="1.3" fill="#1b9e77"/>
<circle cx="419.8" cy="933.9" r="1.3" fill="#1b9e77"/>
<circle cx="427.0" cy="932.6" r="1.3" fill="#1b9e77"/>
<circle cx="430.7" cy="933.6" r="1.3" fill="#1b9e77"/>
<circle cx="419.0" cy="937.1" r="1.3" fill="#1b9e77"/>
<circle cx="411.4" cy="941.5" r="1.3" fill="#1b9e77"/>
<circle cx="431.6" cy="944.7" r="1.3" fill="#1b9e77"/>
<circle cx="454.7" cy="860.0" r="1.3" fill="#d95f02"/>
<circle cx="451.0" cy="875.8" r="1.3" fill="#d95f02"/>
<circle cx="458.9" cy="881.7" r="1.3" fill="#d95f02"/>
<circle cx="455.9" cy="899.9" r="1.3" fill="#d95f02"/>
<circle cx="437.4" cy="911.0" r="1.3" fill="#d95f02"/>
<circle cx="454.7" cy="919.0" r="1.3" fill="#d95f02"/>
<circle cx="455.7" cy="915.3" r="1.3" fill="#d95f02"/>
<circle cx="453.8" cy="923.7" r="1.3" fill="#d95f02"/>
<circle cx="460.0" cy="930.2" r="1.3" fill="#d95f02"/>
<circle cx="435.3" cy="938.0" r="1.3" fill="#d95f02"/>
<circle cx="453.0" cy="940.7" r="1.3" fill="#d95f02"/>
<circle cx="446.4" cy="946.2" r="1.3" fill="#d95f02"/>
<circle cx="452.0" cy="953.9" r="1.3" fill="#d95f02"/>
<text x="550.8" y="884.7" font-size="15.5" text-anchor="start" fill="#1a1a1a" >Timepoint</text>
<rect x="555" y="896.2" width="13.7" height="13.2" fill="#1b9e77" fill-opacity="0.5"/>
<line x1="561.85" y1="896.2" x2="561.85" y2="898.9720000000001" stroke="#1a1a1a" stroke-width="1.2"/>
<line x1="561.85" y1="906.628" x2="561.85" y2="909.4000000000001" stroke="#1a1a1a" stroke-width="1.2"/>
<rect x="556.2" y="898.9720000000001" width="11.299999999999999" height="7.655999999999949" fill="#1b9e77" fill-opacity="0.5" stroke="#1a1a1a" stroke-width="1.2"/>
<line x1="556" y1="902.8000000000001" x2="567.7" y2="902.8000000000001" stroke="#1a1a1a" stroke-width="1.6"/>
<rect x="555" y="910.9" width="13.7" height="13.5" fill="#d95f02" fill-opacity="0.5"/>
<line x1="561.85" y1="910.9" x2="561.85" y2="913.735" stroke="#1a1a1a" stroke-width="1.2"/>
<line x1="561.85" y1="921.5649999999999" x2="561.85" y2="924.4" stroke="#1a1a1a" stroke-width="1.2"/>
<rect x="556.2" y="913.735" width="11.299999999999999" height="7.829999999999927" fill="#d95f02" fill-opacity="0.5" stroke="#1a1a1a" stroke-width="1.2"/>
<line x1="556" y1="917.65" x2="567.7" y2="917.65" stroke="#1a1a1a" stroke-width="1.6"/>
<text x="571.4" y="907.6" font-size="15" text-anchor="start" fill="#1a1a1a" >1st Half</text>
<text x="571.4" y="922.1" font-size="15" text-anchor="start" fill="#1a1a1a" >2nd Half</text>
</svg>
</body></html>
